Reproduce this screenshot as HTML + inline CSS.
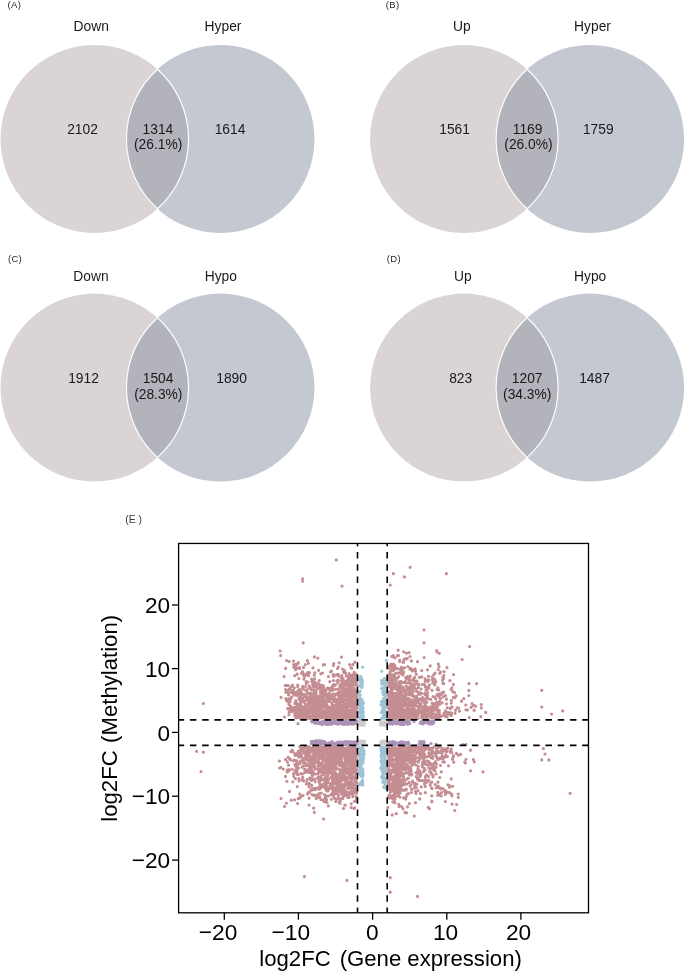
<!DOCTYPE html>
<html><head><meta charset="utf-8">
<style>
html,body{margin:0;padding:0;background:#fff;}
body{width:685px;height:972px;overflow:hidden;position:relative;font-family:"Liberation Sans",sans-serif;}
svg{position:absolute;left:0;top:0;will-change:transform;}
text{font-family:"Liberation Sans",sans-serif;}
</style></head><body>
<svg width="685" height="972" viewBox="0 0 685 972">
<defs>
<g id="venn">
<circle cx="94.5" cy="139" r="94" fill="#dad5d4"/>
<circle cx="220.5" cy="139" r="94" fill="#c3c8d1"/>
<path d="M157.5 69.2 A94 94 0 0 1 157.5 208.8 A94 94 0 0 1 157.5 69.2Z" fill="#b3b3bc" stroke="#fff" stroke-width="1.15"/>
</g>
</defs>
<g fill="#2a2a2a" font-size="9.5" letter-spacing="0.35">
<text x="7.6" y="7.9">(A)</text>
<text x="385.8" y="8.0">(B)</text>
<text x="7.9" y="262.2">(C)</text>
<text x="386.8" y="262.2">(D)</text>
</g>
<!-- Panel A -->
<use href="#venn"/>
<g font-size="13.8" fill="#1a1a1a" text-anchor="middle">
<text x="91.2" y="31">Down</text>
<text x="223" y="31">Hyper</text>
<text x="82.55" y="133.5">2102</text>
<text x="157.9" y="133.5">1314</text>
<text x="158.1" y="149.4">(26.1%)</text>
<text x="230" y="133.5">1614</text>
</g>
<!-- Panel B -->
<use href="#venn" transform="translate(369.6,0)"/>
<g font-size="13.8" fill="#1a1a1a" text-anchor="middle">
<text x="461.8" y="31">Up</text>
<text x="592.5" y="31">Hyper</text>
<text x="454.6" y="133.5">1561</text>
<text x="527.6" y="133.5">1169</text>
<text x="528.5" y="149.4">(26.0%)</text>
<text x="598.3" y="133.5">1759</text>
</g>
<!-- Panel C -->
<use href="#venn" transform="translate(0,248.6)"/>
<g font-size="13.8" fill="#1a1a1a" text-anchor="middle">
<text x="91" y="280.8">Down</text>
<text x="220.8" y="280.8">Hypo</text>
<text x="83.5" y="383">1912</text>
<text x="158.1" y="383">1504</text>
<text x="158.3" y="398.7">(28.3%)</text>
<text x="231.6" y="383">1890</text>
</g>
<!-- Panel D -->
<use href="#venn" transform="translate(369.6,248.6)"/>
<g font-size="13.8" fill="#1a1a1a" text-anchor="middle">
<text x="462.9" y="280.8">Up</text>
<text x="590.2" y="280.8">Hypo</text>
<text x="460.7" y="383">823</text>
<text x="527.2" y="383">1207</text>
<text x="527.2" y="398.7">(34.3%)</text>
<text x="594.5" y="383">1487</text>
</g>
<!-- Panel E -->
<text x="125.2" y="523.2" font-size="10.4" fill="#3a3a3a">(E )</text>
<g stroke-width="3.2" stroke-linecap="round" fill="none">
<path d="M297.3 664.2h0M312.9 667.8h0M349.0 683.4h0M344.9 713.1h0M309.6 715.2h0M317.5 699.3h0M347.6 718.6h0M332.0 709.3h0M346.9 689.1h0M348.8 712.2h0M347.0 693.5h0M334.2 712.1h0M341.9 707.1h0M314.0 709.2h0M318.6 670.3h0M307.7 697.4h0M353.2 703.2h0M352.0 695.0h0M322.4 691.6h0M297.7 686.5h0M333.0 718.3h0M308.4 717.7h0M309.5 687.3h0M352.4 713.9h0M356.4 685.4h0M328.3 694.3h0M351.0 686.8h0M304.5 696.0h0M356.1 713.1h0M345.9 684.1h0M317.4 699.7h0M322.2 702.7h0M346.4 707.9h0M300.7 711.0h0M294.2 710.2h0M305.7 709.3h0M351.4 683.6h0M348.4 694.3h0M316.5 700.9h0M314.5 716.1h0M340.9 712.4h0M310.1 698.1h0M325.9 717.1h0M348.1 710.2h0M306.3 683.6h0M352.4 677.0h0M343.3 698.4h0M297.0 713.6h0M346.9 692.5h0M335.6 711.6h0M320.7 710.6h0M344.0 709.9h0M335.9 711.0h0M322.9 692.6h0M317.4 705.1h0M322.1 689.6h0M331.4 715.0h0M353.5 709.7h0M301.9 709.0h0M298.5 712.6h0M321.8 698.0h0M325.9 714.2h0M355.5 682.0h0M350.9 713.6h0M345.6 717.8h0M338.3 674.7h0M343.2 678.6h0M352.9 717.3h0M321.2 714.2h0M313.5 701.8h0M291.2 698.1h0M341.5 716.0h0M351.5 675.7h0M298.4 705.6h0M348.6 717.3h0M312.2 705.1h0M332.2 705.0h0M340.5 715.8h0M305.2 707.3h0M307.6 704.1h0M352.9 703.3h0M323.2 711.6h0M341.7 715.5h0M353.9 716.3h0M347.7 716.7h0M356.9 697.6h0M343.4 706.8h0M351.7 696.5h0M299.6 705.8h0M324.6 664.7h0M301.0 689.8h0M356.4 707.9h0M317.2 706.9h0M330.0 699.3h0M299.4 711.4h0M324.9 716.6h0M298.8 689.6h0M349.2 705.4h0M333.5 705.6h0M304.9 715.0h0M303.4 710.6h0M299.0 709.4h0M340.8 718.4h0M354.1 710.6h0M313.4 712.7h0M337.0 693.5h0M348.9 716.2h0M297.6 703.9h0M343.0 686.3h0M353.9 694.7h0M293.8 707.4h0M322.0 714.0h0M339.7 703.1h0M324.4 691.6h0M352.8 705.7h0M293.8 667.3h0M343.2 686.0h0M312.1 706.4h0M335.9 709.1h0M352.3 697.0h0M344.1 688.8h0M340.4 713.8h0M348.8 705.3h0M300.9 717.9h0M305.6 704.8h0M320.5 717.3h0M356.6 694.9h0M335.9 708.5h0M353.7 708.8h0M320.6 691.9h0M316.5 698.9h0M352.5 716.0h0M321.0 685.2h0M316.2 685.2h0M306.7 689.8h0M341.2 695.6h0M314.4 656.9h0M343.2 714.5h0M305.4 708.0h0M310.5 716.3h0M324.0 697.5h0M292.5 685.0h0M301.9 715.1h0M351.4 691.9h0M319.2 680.6h0M326.9 718.5h0M351.3 679.6h0M315.0 697.9h0M313.8 707.2h0M348.3 717.0h0M312.1 695.0h0M314.5 678.8h0M305.1 718.6h0M307.4 660.7h0M331.5 671.2h0M342.9 714.8h0M322.5 673.0h0M299.2 713.0h0M305.7 704.2h0M297.2 674.2h0M343.7 671.9h0M345.2 718.2h0M305.4 686.5h0M317.0 709.1h0M325.8 702.9h0M330.7 714.6h0M317.8 658.1h0M288.8 702.8h0M314.7 700.4h0M310.4 711.8h0M322.8 712.4h0M285.2 685.6h0M352.7 692.9h0M306.2 714.1h0M344.2 710.2h0M319.8 713.3h0M339.9 716.6h0M346.5 705.6h0M344.7 712.4h0M290.5 709.9h0M288.3 685.6h0M323.2 685.7h0M296.0 700.6h0M325.6 706.6h0M335.6 717.3h0M356.4 708.9h0M310.6 717.9h0M321.1 709.2h0M321.9 704.0h0M305.2 712.5h0M337.8 699.3h0M285.6 689.5h0M349.0 705.1h0M336.1 717.9h0M324.7 702.7h0M341.3 696.9h0M306.4 714.1h0M345.7 702.7h0M344.1 695.4h0M333.8 676.5h0M333.8 708.1h0M322.7 704.9h0M302.8 673.4h0M353.5 714.1h0M316.5 686.8h0M332.1 713.2h0M307.8 672.6h0M312.3 700.7h0M354.1 704.2h0M342.9 715.0h0M309.0 702.2h0M314.4 692.6h0M311.2 712.1h0M338.7 695.7h0M338.4 700.3h0M306.4 698.2h0M328.6 714.9h0M354.9 715.1h0M340.1 703.5h0M352.2 708.8h0M353.5 696.5h0M329.5 707.3h0M331.0 717.3h0M327.5 716.6h0M356.5 713.1h0M323.5 707.1h0M291.6 697.0h0M355.2 683.1h0M315.6 710.4h0M288.4 690.1h0M314.9 692.2h0M355.6 674.1h0M354.1 688.1h0M310.4 712.5h0M350.2 683.7h0M351.4 677.2h0M289.5 688.9h0M326.1 705.2h0M330.8 712.3h0M322.0 707.2h0M319.9 695.9h0M343.0 713.5h0M310.2 696.8h0M295.7 715.2h0M348.1 716.7h0M310.1 717.2h0M315.9 713.8h0M300.6 703.1h0M310.5 709.6h0M350.2 716.7h0M351.1 717.2h0M333.0 700.4h0M328.4 713.1h0M329.5 695.2h0M314.1 710.9h0M293.6 664.5h0M349.0 704.5h0M350.2 683.9h0M350.3 718.6h0M342.3 709.1h0M355.0 703.2h0M322.2 708.3h0M346.1 708.7h0M340.2 707.7h0M323.2 716.1h0M342.1 684.8h0M339.9 711.8h0M356.9 693.6h0M304.0 707.4h0M349.2 686.8h0M301.1 715.2h0M315.1 702.8h0M325.3 693.1h0M334.1 675.5h0M332.6 686.5h0M305.4 664.6h0M324.0 711.2h0M350.2 682.6h0M355.7 679.3h0M356.3 698.9h0M345.1 715.1h0M355.8 699.4h0M341.7 715.2h0M334.2 712.5h0M356.1 693.0h0M315.6 703.1h0M346.3 706.7h0M354.1 714.3h0M302.9 708.0h0M294.2 710.7h0M309.1 718.2h0M302.8 713.4h0M297.5 694.9h0M335.2 717.3h0M345.9 718.7h0M319.1 700.0h0M291.9 690.6h0M346.6 713.3h0M319.7 704.6h0M293.8 692.9h0M332.5 697.7h0M342.5 692.4h0M330.0 713.0h0M337.5 668.5h0M315.9 693.6h0M349.5 675.3h0M338.5 680.4h0M307.6 682.1h0M333.6 707.9h0M309.4 698.5h0M310.3 717.9h0M345.8 685.7h0M352.0 715.0h0M314.5 715.8h0M330.2 708.1h0M327.8 696.4h0M321.4 700.6h0M345.9 710.4h0M295.1 692.7h0M356.0 713.5h0M338.3 703.6h0M313.1 709.6h0M343.4 685.9h0M338.1 680.0h0M300.4 696.3h0M347.0 716.1h0M353.6 716.0h0M339.0 714.0h0M345.6 699.6h0M350.1 688.7h0M329.6 689.8h0M308.3 704.7h0M333.5 709.9h0M309.2 704.6h0M343.1 708.4h0M330.1 710.2h0M298.9 714.9h0M311.8 708.3h0M309.4 672.7h0M342.2 707.3h0M315.0 699.2h0M340.1 716.9h0M340.6 703.2h0M341.7 681.2h0M336.2 711.7h0M349.8 701.0h0M353.1 711.9h0M315.7 712.2h0M314.9 716.1h0M327.2 716.1h0M327.8 715.9h0M318.6 710.5h0M350.8 698.4h0M290.2 699.5h0M336.5 711.5h0M346.2 718.6h0M353.6 711.5h0M349.6 685.3h0M315.1 709.1h0M343.9 715.1h0M310.8 699.3h0M310.2 700.2h0M327.0 716.9h0M347.8 699.2h0M356.0 691.3h0M315.1 718.8h0M345.7 714.4h0M311.3 718.7h0M337.0 674.6h0M341.3 696.4h0M300.5 714.1h0M337.7 715.2h0M308.3 710.0h0M313.7 685.4h0M337.9 689.0h0M351.6 688.0h0M307.6 710.5h0M329.2 708.3h0M342.4 700.0h0M300.6 704.2h0M350.8 677.3h0M313.1 708.8h0M327.8 701.2h0M311.2 709.8h0M324.5 701.0h0M355.1 693.6h0M344.1 686.3h0M348.6 706.7h0M354.6 715.8h0M348.6 679.3h0M310.0 707.5h0M354.7 692.7h0M313.3 698.0h0M306.9 712.2h0M318.6 684.1h0M319.4 685.2h0M308.4 663.3h0M337.0 680.9h0M342.5 706.6h0M335.1 695.4h0M339.4 708.4h0M336.3 694.2h0M337.0 718.7h0M337.4 703.0h0M350.2 705.0h0M319.3 713.3h0M288.1 692.8h0M326.2 705.5h0M328.7 708.4h0M353.9 678.1h0M317.7 710.0h0M300.8 716.2h0M319.3 706.8h0M334.6 708.5h0M322.3 715.6h0M311.3 707.0h0M326.1 717.7h0M356.8 691.3h0M317.2 700.5h0M340.8 694.9h0M300.1 692.6h0M321.2 714.5h0M330.5 671.9h0M310.4 707.0h0M349.1 673.5h0M294.6 695.2h0M295.9 717.7h0M319.5 716.8h0M353.3 685.1h0M353.9 695.9h0M351.5 706.2h0M320.0 701.6h0M356.8 684.5h0M302.2 694.1h0M304.7 707.0h0M324.0 688.1h0M350.3 718.0h0M353.3 709.6h0M288.6 698.8h0M338.3 667.0h0M343.3 709.6h0M305.5 716.4h0M308.2 700.8h0M343.2 693.8h0M355.6 693.0h0M304.0 679.1h0M339.8 692.3h0M337.3 713.0h0M341.7 695.2h0M310.5 715.7h0M337.3 704.4h0M355.0 716.4h0M336.0 710.0h0M317.5 703.6h0M312.6 695.4h0M312.8 682.9h0M335.7 710.5h0M325.3 714.3h0M301.4 692.5h0M351.9 691.8h0M336.4 705.5h0M347.2 694.5h0M308.9 712.4h0M346.6 718.0h0M344.9 707.5h0M347.2 691.1h0M297.5 704.1h0M317.7 713.4h0M302.3 671.9h0M291.4 686.8h0M318.3 716.5h0M311.5 717.9h0M353.5 693.3h0M344.6 707.2h0M323.6 694.5h0M355.5 707.6h0M332.3 706.7h0M349.5 696.9h0M353.2 684.0h0M299.8 691.8h0M336.2 713.4h0M355.1 705.8h0M317.8 688.3h0M341.3 717.0h0M330.4 710.3h0M340.6 709.5h0M337.3 674.6h0M348.2 699.2h0M332.2 697.8h0M353.3 711.7h0M300.4 715.8h0M306.0 674.0h0M289.2 661.5h0M315.8 694.9h0M347.3 705.3h0M328.9 710.3h0M325.9 706.8h0M355.7 697.2h0M322.4 692.0h0M307.6 704.9h0M344.3 691.2h0M301.1 716.4h0M300.3 710.7h0M338.7 698.1h0M324.9 711.8h0M355.9 715.1h0M325.6 701.1h0M300.7 706.5h0M322.6 712.5h0M306.6 713.1h0M349.8 676.4h0M334.1 697.7h0M290.1 701.7h0M352.1 679.4h0M313.5 687.1h0M309.0 704.5h0M355.9 703.2h0M334.4 701.3h0M326.0 700.0h0M308.4 712.2h0M318.6 714.2h0M333.4 665.5h0M350.7 684.6h0M325.2 710.1h0M299.9 711.6h0M326.4 714.7h0M350.4 701.8h0M348.6 702.7h0M345.0 713.4h0M351.0 710.7h0M293.3 690.5h0M333.0 705.1h0M342.9 718.0h0M299.9 717.2h0M353.1 679.9h0M345.5 706.5h0M316.6 716.4h0M293.0 708.5h0M348.2 694.5h0M317.8 703.7h0M295.2 716.4h0M301.7 716.4h0M298.7 717.7h0M297.8 711.2h0M355.0 680.8h0M302.7 694.5h0M297.3 695.4h0M289.0 714.7h0M295.2 713.4h0M355.3 714.4h0M321.3 707.3h0M356.6 681.7h0M347.6 706.2h0M330.4 708.9h0M355.1 690.0h0M300.9 702.1h0M315.4 696.0h0M315.0 694.2h0M308.0 716.7h0M324.6 718.0h0M301.4 714.6h0M336.0 713.4h0M338.7 676.1h0M304.3 694.5h0M332.7 704.9h0M345.9 706.7h0M350.3 684.9h0M338.5 717.0h0M296.8 706.9h0M314.3 675.2h0M308.9 700.1h0M332.9 694.2h0M323.1 711.6h0M353.4 705.3h0M337.2 702.1h0M337.4 700.6h0M326.4 703.8h0M294.7 714.0h0M281.0 697.4h0M344.7 713.8h0M338.5 716.5h0M325.5 713.7h0M320.1 718.1h0M311.3 693.1h0M347.8 690.0h0M342.3 712.7h0M305.0 713.6h0M298.9 708.4h0M343.0 713.0h0M350.9 667.5h0M345.2 710.6h0M347.6 702.5h0M334.3 718.1h0M319.4 688.8h0M308.9 693.1h0M312.9 704.0h0M323.4 707.1h0M295.6 692.5h0M304.0 702.2h0M289.0 704.4h0M336.2 708.9h0M343.4 699.4h0M300.2 700.6h0M324.8 703.0h0M308.6 675.7h0M353.3 711.7h0M323.4 664.9h0M356.7 703.4h0M335.3 689.5h0M323.9 693.1h0M312.2 708.2h0M339.2 662.8h0M292.0 708.3h0M317.7 688.5h0M314.1 718.2h0M320.0 695.9h0M334.3 698.4h0M292.5 692.6h0M311.4 710.1h0M335.0 718.7h0M299.2 699.2h0M338.6 710.7h0M353.9 710.7h0M322.3 703.2h0M326.0 708.0h0M301.2 705.6h0M342.1 679.9h0M324.6 692.5h0M338.2 708.8h0M348.5 679.9h0M344.5 715.9h0M351.0 700.1h0M313.5 705.1h0M351.9 675.4h0M347.6 689.0h0M313.1 695.3h0M345.6 673.1h0M344.7 696.2h0M311.2 716.2h0M317.4 705.7h0M289.1 699.8h0M313.5 714.5h0M353.0 681.3h0M344.6 717.6h0M315.5 715.8h0M341.5 657.0h0M317.0 712.2h0M339.9 698.6h0M323.6 717.0h0M320.6 708.8h0M351.0 702.7h0M329.8 681.7h0M302.6 707.2h0M346.3 709.8h0M302.8 686.4h0M337.5 703.8h0M333.0 709.6h0M300.7 708.5h0M337.0 714.2h0M352.9 680.7h0M344.1 717.2h0M315.2 718.0h0M321.8 688.0h0M313.0 712.5h0M327.2 697.4h0M306.5 706.6h0M354.1 672.4h0M356.7 696.5h0M315.5 702.1h0M314.8 706.4h0M328.0 711.4h0M297.8 685.2h0M350.5 716.3h0M344.1 702.6h0M318.0 712.9h0M349.6 693.7h0M296.1 664.4h0M295.6 669.7h0M354.2 683.6h0M301.6 698.1h0M303.9 710.4h0M323.4 713.3h0M350.0 686.2h0M314.7 682.3h0M314.7 708.0h0M300.7 707.4h0M349.9 690.2h0M302.3 711.6h0M312.9 695.9h0M311.9 710.5h0M331.4 695.6h0M334.5 718.3h0M350.2 718.4h0M320.4 697.9h0M352.8 696.1h0M351.1 676.8h0M356.3 678.2h0M342.9 705.2h0M330.3 689.6h0M323.8 687.5h0M336.6 674.8h0M295.9 708.7h0M306.1 681.6h0M320.8 673.8h0M336.8 700.7h0M303.5 667.4h0M335.2 705.9h0M320.3 716.0h0M355.8 698.9h0M349.5 683.3h0M336.7 699.7h0M342.4 711.5h0M304.2 718.4h0M330.9 716.2h0M341.0 687.3h0M317.3 717.6h0M287.7 708.7h0M348.8 683.4h0M297.1 710.1h0M317.6 696.2h0M300.8 704.4h0M336.1 704.5h0M326.4 694.1h0M352.3 695.8h0M318.1 696.4h0M352.9 664.7h0M351.1 702.8h0M296.1 693.4h0M328.6 697.9h0M341.8 689.3h0M336.0 714.3h0M315.7 709.3h0M352.8 700.4h0M334.7 694.0h0M322.3 693.8h0M351.8 668.3h0M335.3 708.2h0M328.4 707.3h0M328.2 718.2h0M325.6 707.8h0M353.7 677.5h0M327.8 699.1h0M342.0 705.0h0M332.7 716.7h0M339.4 712.0h0M356.9 705.5h0M341.2 712.9h0M341.6 686.5h0M350.2 715.8h0M293.2 707.7h0M322.4 697.2h0M325.1 690.0h0M329.3 712.9h0M293.8 709.8h0M328.5 709.3h0M324.0 715.7h0M356.0 691.4h0M306.0 706.4h0M294.9 703.4h0M317.0 715.1h0M310.9 689.4h0M317.1 684.1h0M337.6 711.0h0M314.9 715.2h0M351.9 698.9h0M351.4 685.9h0M343.1 711.1h0M285.6 668.3h0M353.8 712.7h0M353.9 706.3h0M327.4 688.3h0M355.8 700.4h0M340.1 703.7h0M308.9 705.2h0M309.3 716.0h0M328.6 698.4h0M309.9 716.6h0M324.6 716.7h0M331.6 716.1h0M306.9 692.2h0M325.2 715.8h0M339.2 708.6h0M352.4 714.5h0M356.8 707.6h0M342.4 679.0h0M334.2 709.7h0M327.4 718.5h0M350.8 712.2h0M302.7 697.8h0M322.8 700.1h0M345.0 704.2h0M303.8 707.2h0M318.2 683.4h0M329.1 701.5h0M327.6 688.2h0M337.8 682.9h0M341.1 707.0h0M291.9 711.7h0M303.5 718.6h0M311.7 700.1h0M356.0 683.8h0M303.0 715.8h0M333.5 701.5h0M331.7 698.8h0M304.9 710.6h0M333.6 712.0h0M340.6 709.4h0M357.0 701.6h0M304.4 689.8h0M356.8 713.5h0M297.3 710.4h0M309.5 702.1h0M313.9 690.2h0M336.4 703.2h0M343.3 710.4h0M299.4 717.2h0M301.5 701.3h0M345.9 712.9h0M347.6 698.2h0M322.6 705.7h0M290.3 707.6h0M349.7 700.5h0M305.6 697.0h0M314.4 711.2h0M304.2 717.6h0M322.3 704.8h0M327.3 705.7h0M351.1 696.3h0M349.2 693.6h0M342.3 710.0h0M321.7 713.7h0M325.0 714.1h0M340.7 709.3h0M314.3 716.6h0M329.8 710.6h0M288.6 695.0h0M319.3 688.9h0M354.5 696.7h0M311.1 718.0h0M355.2 678.9h0M348.0 713.5h0M336.2 716.9h0M346.4 675.9h0M298.8 678.5h0M353.9 714.2h0M316.9 706.7h0M341.8 675.7h0M346.4 703.0h0M343.5 681.2h0M356.6 675.1h0M356.1 717.0h0M341.9 707.1h0M325.7 695.4h0M312.7 685.2h0M318.0 707.6h0M347.0 703.4h0M334.0 717.1h0M315.8 718.1h0M355.1 709.8h0M310.3 695.2h0M317.0 709.9h0M351.6 694.7h0M297.4 705.6h0M340.5 684.9h0M315.0 715.8h0M330.3 707.7h0M329.6 692.9h0M341.3 706.7h0M346.4 695.7h0M339.0 700.7h0M353.1 715.7h0M333.2 675.3h0M347.4 696.8h0M356.8 707.7h0M342.6 678.9h0M355.1 695.2h0M327.8 706.9h0M353.7 707.7h0M333.2 699.8h0M331.8 703.6h0M350.1 695.3h0M346.7 706.1h0M344.1 688.7h0M323.5 716.3h0M317.3 717.1h0M331.4 712.5h0M353.3 712.4h0M347.0 714.0h0M307.2 718.1h0M309.2 685.9h0M323.9 696.3h0M306.6 708.8h0M341.8 701.7h0M313.9 703.9h0M306.1 713.8h0M355.8 710.7h0M342.4 718.0h0M344.2 709.7h0M335.3 699.6h0M352.4 691.4h0M312.1 702.6h0M347.6 708.6h0M351.7 710.8h0M354.7 708.3h0M354.6 707.9h0M311.3 712.5h0M313.3 686.1h0M320.4 717.9h0M300.1 711.4h0M356.7 702.6h0M340.7 711.0h0M339.5 714.7h0M318.2 697.7h0M311.3 717.0h0M290.5 711.5h0M353.9 703.0h0M337.2 715.6h0M326.2 705.5h0M350.0 710.2h0M306.1 674.8h0M312.2 695.1h0M314.8 707.7h0M355.8 699.5h0M353.4 694.1h0M337.7 701.4h0M320.9 705.4h0M320.6 696.7h0M342.5 718.5h0M320.7 685.5h0M295.7 712.1h0M326.1 709.5h0M315.8 715.0h0M307.4 717.9h0M332.8 718.2h0M350.2 713.6h0M345.2 694.9h0M356.0 717.1h0M341.4 678.1h0M328.8 693.5h0M298.3 662.7h0M329.6 701.4h0M305.5 717.5h0M338.4 715.4h0M345.1 717.2h0M299.0 708.4h0M346.6 715.5h0M353.0 696.7h0M344.6 704.3h0M298.2 715.4h0M340.0 687.4h0M296.5 713.5h0M303.5 675.3h0M319.6 701.0h0M324.7 706.0h0M297.0 704.1h0M344.3 681.3h0M284.1 676.6h0M304.7 706.5h0M304.1 717.9h0M340.6 710.3h0M346.5 713.3h0M356.2 712.4h0M354.9 662.2h0M333.4 711.9h0M355.0 706.9h0M340.0 685.6h0M318.3 708.6h0M295.8 707.0h0M297.9 710.4h0M326.1 712.3h0M295.7 701.0h0M354.0 703.7h0M351.8 715.2h0M351.3 711.5h0M350.8 692.6h0M325.0 706.3h0M320.4 715.6h0M313.0 704.2h0M343.1 710.6h0M334.0 684.5h0M313.9 708.7h0M309.0 688.0h0M316.4 699.1h0M315.3 715.3h0M293.7 694.5h0M335.0 713.4h0M327.4 716.2h0M350.5 706.3h0M302.5 698.2h0M356.8 717.8h0M315.1 687.0h0M333.2 718.7h0M305.6 700.2h0M320.0 714.5h0M316.6 716.9h0M310.5 688.0h0M323.3 716.4h0M331.9 716.5h0M299.0 698.1h0M344.5 670.4h0M302.3 701.1h0M344.5 688.6h0M339.6 702.8h0M318.4 704.7h0M307.1 694.1h0M322.5 692.4h0M286.6 685.4h0M332.6 697.3h0M332.6 718.4h0M315.8 690.8h0M320.6 711.5h0M346.8 682.2h0M343.5 705.5h0M339.9 703.1h0M354.1 709.8h0M314.2 686.0h0M346.0 715.2h0M355.4 675.9h0M352.9 696.3h0M344.5 711.3h0M335.2 717.7h0M353.4 712.5h0M333.3 718.3h0M300.0 711.8h0M340.6 706.9h0M297.5 708.6h0M337.5 710.3h0M351.5 710.5h0M305.4 695.5h0M307.5 698.5h0M346.6 706.3h0M338.6 692.2h0M318.9 704.0h0M319.4 705.0h0M301.2 710.7h0M342.2 712.2h0M352.2 678.9h0M295.8 702.1h0M323.8 701.9h0M349.6 664.5h0M344.8 714.9h0M338.7 706.5h0M301.9 718.2h0M340.1 706.4h0M312.1 702.9h0M349.7 717.3h0M316.4 710.3h0M331.5 687.4h0M343.0 714.2h0M343.9 683.9h0M334.3 717.6h0M291.6 710.4h0M347.6 691.8h0M310.0 714.9h0M335.7 708.2h0M309.5 718.0h0M286.6 700.8h0M330.0 716.4h0M294.9 715.6h0M350.7 683.5h0M330.5 697.5h0M347.9 704.5h0M314.2 716.7h0M327.1 705.9h0M346.9 705.8h0M354.7 674.0h0M336.3 714.3h0M312.1 717.8h0M356.2 691.1h0M320.5 692.7h0M319.6 713.6h0M304.4 716.4h0M350.5 704.6h0M345.8 699.7h0M350.5 682.6h0M345.9 692.9h0M332.0 713.7h0M331.7 708.5h0M330.4 716.3h0M345.7 712.0h0M354.2 706.0h0M330.0 716.6h0M310.8 700.5h0M356.3 679.7h0M352.7 715.2h0M338.9 699.9h0M294.2 687.8h0M316.2 691.6h0M297.4 691.6h0M339.6 706.9h0M342.5 669.0h0M291.0 692.5h0M352.1 696.0h0M322.3 715.2h0M322.4 702.5h0M316.0 715.2h0M328.9 699.0h0M333.8 663.6h0M339.6 691.0h0M355.5 714.9h0M308.1 718.3h0M296.4 707.4h0M304.1 708.6h0M348.6 688.4h0M285.9 692.2h0M320.6 696.3h0M302.5 687.6h0M353.3 709.2h0M347.6 686.0h0M348.4 678.4h0M335.3 685.2h0M342.7 687.9h0M292.8 708.3h0M332.4 707.6h0M302.6 699.9h0M352.4 690.8h0M300.7 690.4h0M342.9 707.4h0M322.8 699.5h0M332.3 690.4h0M314.8 672.9h0M321.8 686.0h0M333.5 705.9h0M309.3 703.8h0M313.0 690.0h0M290.6 706.0h0M308.5 704.9h0M346.3 703.8h0M315.3 707.9h0M348.7 703.0h0M311.8 694.3h0M354.3 705.3h0M298.0 692.8h0M322.1 717.6h0M326.0 690.8h0M308.0 704.3h0M323.3 699.2h0M332.8 689.3h0M352.1 697.1h0M355.9 696.0h0M341.7 705.4h0M342.1 709.4h0M333.5 674.7h0M347.9 699.6h0M296.1 717.8h0M307.2 705.2h0M352.8 675.1h0M319.8 687.1h0M318.9 696.3h0M323.1 702.8h0M305.7 711.9h0M328.4 676.5h0M338.6 692.4h0M304.1 711.1h0M341.4 684.2h0M340.6 698.9h0M312.3 711.4h0M320.8 709.2h0M344.2 672.7h0M352.8 715.3h0M346.9 680.7h0M304.7 711.9h0M300.5 710.0h0M294.8 675.7h0M316.8 697.4h0M351.1 680.8h0M302.8 714.9h0M332.8 688.8h0M309.8 687.3h0M311.4 718.1h0M350.5 714.9h0M328.7 688.3h0M299.7 693.4h0M336.7 712.9h0M333.4 680.5h0M330.3 708.3h0M304.7 707.5h0M316.7 711.4h0M295.8 716.4h0M289.1 711.9h0M351.3 714.6h0M320.9 689.2h0M285.9 698.7h0M347.3 690.2h0M306.8 713.7h0M351.9 700.6h0M311.2 698.8h0M300.9 702.3h0M332.9 685.2h0M318.7 702.1h0M319.4 708.9h0M346.6 709.7h0M304.3 701.6h0M334.6 714.9h0M354.9 682.2h0M356.8 704.7h0M350.5 711.0h0M322.3 693.9h0M330.1 715.3h0M293.5 661.1h0M309.6 707.3h0M318.7 707.3h0M351.4 716.0h0M349.1 683.1h0M333.3 706.6h0M344.9 681.6h0M355.9 713.9h0M316.8 706.7h0M349.2 677.2h0M353.7 718.7h0M317.6 709.9h0M354.7 697.0h0M356.2 695.5h0M353.4 707.9h0M343.4 706.0h0M296.9 715.8h0M344.0 712.7h0M420.6 703.6h0M398.2 688.6h0M459.4 711.2h0M413.3 701.9h0M406.7 707.7h0M397.2 707.6h0M427.4 707.3h0M410.5 689.6h0M396.7 710.5h0M395.3 683.7h0M393.2 685.4h0M427.8 687.2h0M420.1 712.5h0M412.4 695.8h0M412.5 694.3h0M436.1 716.7h0M396.8 710.7h0M426.8 718.0h0M428.5 713.4h0M431.1 709.8h0M416.3 689.0h0M414.3 715.2h0M400.2 717.9h0M390.2 682.1h0M431.0 711.2h0M395.8 668.0h0M421.7 670.5h0M447.0 667.6h0M391.6 696.3h0M391.2 670.4h0M393.1 715.3h0M414.8 709.4h0M391.3 690.0h0M411.9 711.7h0M401.7 692.7h0M425.1 678.9h0M391.2 687.9h0M432.3 716.7h0M392.6 714.6h0M409.1 703.4h0M435.7 681.7h0M403.4 704.6h0M399.4 713.0h0M432.0 690.3h0M455.4 710.3h0M403.8 695.3h0M400.5 712.7h0M399.0 711.5h0M389.3 693.9h0M402.1 703.7h0M395.8 712.6h0M400.2 669.6h0M430.7 699.3h0M410.9 692.5h0M389.9 712.4h0M396.6 707.2h0M406.5 711.3h0M396.3 717.6h0M395.8 701.6h0M388.6 718.3h0M439.3 711.4h0M409.7 718.1h0M423.6 714.0h0M395.5 693.6h0M437.1 694.7h0M404.7 714.8h0M400.9 689.6h0M435.3 714.8h0M471.1 707.4h0M395.2 657.8h0M427.6 687.6h0M391.0 664.2h0M419.1 684.5h0M400.3 710.6h0M428.5 676.4h0M398.2 717.2h0M423.9 710.7h0M393.3 655.5h0M413.5 715.8h0M451.6 713.2h0M393.1 703.3h0M393.1 681.4h0M404.6 713.9h0M437.9 687.8h0M409.4 694.9h0M427.0 690.3h0M454.6 692.6h0M396.0 713.2h0M412.0 701.0h0M398.5 708.7h0M392.5 715.0h0M402.9 674.9h0M412.7 708.1h0M392.9 711.6h0M424.0 718.6h0M392.3 692.6h0M437.5 711.4h0M393.2 670.0h0M416.1 701.9h0M434.8 684.9h0M392.7 712.0h0M415.2 703.8h0M427.2 697.4h0M399.1 710.7h0M402.7 704.5h0M408.5 706.1h0M415.0 687.9h0M399.7 661.6h0M443.8 713.6h0M410.4 715.3h0M399.9 711.5h0M431.0 713.0h0M449.9 680.7h0M448.1 714.1h0M412.5 711.0h0M398.1 650.2h0M390.1 699.7h0M391.8 710.1h0M389.6 686.2h0M433.4 681.6h0M440.0 697.9h0M393.2 657.0h0M400.3 681.7h0M481.2 704.5h0M394.6 712.8h0M388.6 699.8h0M406.2 717.1h0M399.3 704.6h0M451.2 703.2h0M394.0 670.1h0M438.5 718.3h0M395.2 710.9h0M415.7 712.0h0M390.4 696.9h0M405.1 713.6h0M407.3 715.0h0M410.6 714.2h0M431.6 714.8h0M421.5 706.4h0M411.8 704.3h0M400.5 672.6h0M433.0 704.3h0M393.8 695.4h0M441.1 716.2h0M425.3 699.4h0M412.8 708.1h0M408.1 711.2h0M411.2 692.6h0M416.9 681.1h0M435.9 715.9h0M390.1 676.9h0M388.5 686.2h0M425.8 716.1h0M400.6 712.2h0M401.1 695.6h0M395.9 686.6h0M416.6 714.2h0M434.6 679.0h0M412.4 716.7h0M399.2 706.3h0M392.5 701.1h0M388.9 674.5h0M414.6 715.9h0M414.1 713.9h0M432.6 717.7h0M412.8 687.4h0M391.8 710.6h0M395.3 673.5h0M394.2 708.3h0M443.9 675.3h0M429.4 684.8h0M404.0 701.4h0M389.6 707.5h0M416.1 716.1h0M416.3 674.3h0M407.7 707.4h0M405.7 677.9h0M424.7 693.4h0M390.3 697.4h0M404.5 703.9h0M394.8 712.4h0M468.9 690.4h0M402.5 712.9h0M397.9 700.8h0M389.4 666.2h0M439.8 673.3h0M420.5 710.8h0M412.1 705.1h0M397.9 708.5h0M468.8 695.5h0M390.0 715.4h0M405.0 682.7h0M432.1 706.7h0M422.8 715.6h0M407.8 718.4h0M394.2 714.0h0M401.6 711.3h0M400.2 709.9h0M393.9 699.5h0M461.5 701.2h0M399.9 705.3h0M397.9 682.8h0M445.5 695.7h0M403.5 662.2h0M431.5 716.5h0M403.8 712.9h0M452.7 691.6h0M414.9 698.9h0M411.4 694.3h0M438.3 669.6h0M393.9 718.5h0M396.1 707.4h0M393.1 717.3h0M428.3 708.2h0M472.1 703.5h0M390.8 677.1h0M475.6 706.2h0M430.9 710.9h0M447.1 717.0h0M403.9 688.9h0M408.3 688.1h0M395.6 697.1h0M391.8 712.6h0M410.4 700.4h0M425.1 716.2h0M440.5 694.7h0M391.3 704.1h0M414.2 684.3h0M402.5 713.9h0M408.2 707.7h0M392.9 694.9h0M414.7 718.4h0M394.4 715.4h0M421.8 676.9h0M408.7 704.0h0M401.2 692.6h0M389.7 698.6h0M440.6 672.1h0M416.1 711.2h0M432.9 713.7h0M407.2 705.8h0M391.8 687.6h0M396.4 711.2h0M413.3 718.6h0M401.1 698.6h0M425.2 703.3h0M396.0 680.3h0M419.4 707.6h0M423.6 712.8h0M419.1 692.0h0M396.9 714.2h0M406.2 710.5h0M408.2 708.1h0M418.3 700.8h0M425.7 714.5h0M394.4 688.2h0M394.8 699.7h0M404.5 667.8h0M403.9 711.5h0M406.9 717.9h0M393.4 713.6h0M413.6 700.6h0M412.8 709.1h0M401.7 688.2h0M414.8 688.1h0M397.2 709.3h0M401.2 673.6h0M418.3 707.5h0M414.4 706.1h0M450.9 715.4h0M409.2 690.0h0M404.4 698.1h0M398.6 714.3h0M413.6 695.8h0M402.5 712.3h0M396.8 693.4h0M463.8 698.6h0M398.5 695.7h0M393.8 694.3h0M401.6 709.3h0M403.0 704.7h0M389.2 703.9h0M390.0 717.9h0M473.7 705.3h0M410.6 705.8h0M411.5 701.9h0M408.5 711.8h0M413.2 691.3h0M412.8 717.6h0M396.5 668.2h0M442.9 683.1h0M403.2 709.4h0M435.2 714.2h0M393.1 698.7h0M393.0 703.1h0M389.0 695.5h0M391.0 676.5h0M420.5 694.1h0M409.5 709.4h0M390.3 696.4h0M391.5 713.8h0M451.1 689.3h0M408.8 679.7h0M389.1 686.9h0M393.3 713.3h0M439.4 712.3h0M411.0 711.5h0M399.0 704.5h0M399.4 711.4h0M403.7 651.8h0M424.1 657.5h0M457.2 707.9h0M415.9 712.8h0M429.4 716.2h0M390.8 706.9h0M402.7 687.1h0M402.2 696.2h0M396.1 718.6h0M407.8 717.8h0M400.2 693.4h0M403.8 660.2h0M427.6 693.1h0M411.2 710.8h0M395.8 704.9h0M414.3 713.7h0M413.1 680.3h0M395.2 717.4h0M399.8 701.5h0M393.6 710.0h0M393.7 669.0h0M404.9 718.7h0M415.7 700.0h0M394.7 708.4h0M396.6 686.2h0M412.7 689.0h0M422.0 716.2h0M400.7 716.7h0M412.2 711.2h0M414.6 705.2h0M398.2 686.1h0M419.8 694.2h0M394.6 693.5h0M390.7 686.3h0M405.1 698.8h0M422.3 699.2h0M418.3 684.0h0M407.9 708.6h0M410.1 699.9h0M405.9 713.2h0M387.9 705.3h0M391.9 656.4h0M388.4 704.9h0M406.2 701.0h0M410.2 675.9h0M404.9 702.5h0M403.3 715.4h0M395.6 697.0h0M401.3 706.3h0M425.4 712.7h0M416.1 705.6h0M404.5 691.4h0M447.3 707.8h0M400.6 710.9h0M405.4 658.8h0M401.3 716.5h0M404.8 714.2h0M389.5 716.3h0M410.7 683.2h0M388.8 712.4h0M426.0 698.2h0M422.5 715.7h0M409.1 709.1h0M392.1 667.2h0M474.0 710.3h0M402.6 673.2h0M390.1 683.1h0M404.2 712.7h0M409.3 714.7h0M400.2 715.7h0M392.8 705.3h0M388.8 713.2h0M394.4 706.9h0M430.2 665.9h0M396.0 713.1h0M413.2 670.0h0M416.5 698.2h0M439.1 701.9h0M394.0 702.1h0M425.2 694.7h0M411.4 660.9h0M397.0 712.6h0M388.2 694.8h0M408.6 700.7h0M446.5 703.8h0M427.0 680.0h0M414.1 711.3h0M390.3 709.4h0M430.8 717.4h0M391.0 692.0h0M415.8 705.6h0M404.5 698.2h0M405.7 711.7h0M435.4 682.6h0M400.2 683.9h0M411.4 706.1h0M425.6 708.1h0M391.6 675.4h0M388.8 715.5h0M413.2 703.2h0M395.0 706.4h0M433.9 703.9h0M393.4 702.0h0M418.5 687.5h0M396.2 716.8h0M451.1 707.4h0M421.8 700.6h0M406.8 694.2h0M438.1 718.7h0M435.4 707.2h0M443.4 696.7h0M393.5 680.3h0M394.1 679.5h0M391.6 667.5h0M387.9 682.4h0M408.8 698.7h0M391.2 701.7h0M399.7 713.6h0M397.7 699.9h0M404.9 704.1h0M393.0 701.7h0M396.6 704.4h0M445.6 715.3h0M424.4 714.3h0M409.8 676.9h0M451.9 687.9h0M388.6 685.9h0M444.2 716.0h0M418.2 714.3h0M401.2 681.5h0M406.1 686.2h0M485.8 712.4h0M416.7 712.1h0M390.0 710.8h0M423.0 713.4h0M398.8 693.4h0M434.6 717.5h0M442.1 692.6h0M395.9 707.9h0M411.3 713.6h0M392.5 665.0h0M398.3 702.9h0M404.2 696.7h0M438.2 694.2h0M388.4 675.8h0M398.9 703.1h0M397.3 668.7h0M410.7 705.8h0M412.3 671.0h0M404.4 717.1h0M424.8 684.5h0M412.6 714.9h0M411.9 669.8h0M408.1 704.5h0M469.0 683.6h0M441.7 693.7h0M413.6 678.6h0M414.6 681.6h0M427.5 714.2h0M435.8 698.9h0M414.0 680.4h0M423.2 714.1h0M401.1 667.3h0M425.2 681.3h0M400.1 691.7h0M411.7 701.2h0M456.1 695.9h0M424.3 703.3h0M418.5 694.1h0M411.8 700.5h0M397.5 677.9h0M410.2 679.9h0M465.8 705.0h0M425.7 716.0h0M413.2 710.1h0M396.5 697.1h0M411.9 706.2h0M395.2 705.4h0M411.6 699.8h0M442.5 680.1h0M394.7 665.3h0M404.8 697.6h0M414.4 713.5h0M391.5 695.9h0M446.5 699.2h0M431.3 710.7h0M403.3 697.3h0M411.2 668.8h0M388.4 692.3h0M389.1 704.5h0M389.2 681.4h0M395.2 684.6h0M392.5 670.7h0M416.2 714.6h0M445.3 710.9h0M417.6 684.0h0M397.1 686.1h0M389.9 697.6h0M391.6 691.6h0M407.2 715.1h0M418.2 709.8h0M437.4 707.2h0M439.3 653.3h0M390.1 716.3h0M400.2 688.8h0M400.6 686.2h0M391.3 697.1h0M406.7 703.8h0M401.4 715.8h0M443.5 692.2h0M400.5 708.0h0M430.7 706.8h0M420.5 693.3h0M446.4 712.2h0M415.6 717.6h0M392.9 707.3h0M427.7 714.6h0M422.6 684.4h0M415.5 671.3h0M418.4 700.9h0M387.8 668.4h0M467.5 710.0h0M393.4 664.0h0M414.0 706.3h0M436.1 717.8h0M453.6 674.5h0M417.5 661.7h0M454.7 697.7h0M399.7 714.5h0M391.2 718.5h0M390.1 703.3h0M400.3 718.8h0M404.0 705.8h0M401.3 706.8h0M391.2 665.4h0M429.0 688.0h0M405.9 700.3h0M421.7 710.0h0M398.3 700.1h0M393.3 706.0h0M443.7 678.2h0M391.5 679.2h0M394.5 701.3h0M440.6 698.5h0M402.6 708.7h0M433.0 696.5h0M396.4 689.3h0M469.3 717.5h0M392.8 698.4h0M425.4 718.8h0M423.2 707.2h0M394.9 701.2h0M438.9 713.9h0M414.8 684.5h0M422.0 700.8h0M436.8 650.7h0M408.6 687.3h0M439.1 694.0h0M397.9 687.1h0M403.8 700.9h0M391.6 681.5h0M406.2 677.3h0M432.1 709.2h0M389.1 681.2h0M393.6 685.0h0M420.7 707.0h0M402.1 699.4h0M444.0 671.6h0M407.8 714.1h0M397.2 709.7h0M403.1 698.1h0M393.2 676.0h0M397.8 690.3h0M423.9 708.4h0M399.3 716.8h0M433.8 674.5h0M401.0 700.6h0M405.6 702.3h0M418.9 706.5h0M409.3 709.9h0M389.0 698.8h0M398.6 708.3h0M393.2 705.6h0M402.7 668.1h0M455.1 713.3h0M422.3 717.1h0M397.7 701.2h0M424.9 694.5h0M424.2 707.6h0M387.8 701.5h0M399.6 715.7h0M406.8 718.6h0M418.1 706.9h0M412.0 707.4h0M405.1 712.8h0M465.9 709.8h0M401.3 693.4h0M429.0 680.1h0M407.3 716.9h0M407.6 705.8h0M394.8 715.4h0M415.4 717.8h0M400.0 709.8h0M410.5 701.9h0M401.9 692.3h0M394.9 713.2h0M421.4 706.0h0M458.7 708.0h0M439.7 715.4h0M419.1 699.0h0M407.6 714.7h0M410.0 656.5h0M400.6 693.0h0M388.1 715.6h0M391.7 717.4h0M410.0 668.3h0M407.5 676.7h0M397.5 655.6h0M415.4 718.2h0M393.1 678.3h0M399.7 707.2h0M392.3 714.0h0M406.4 694.6h0M425.4 686.9h0M414.9 700.3h0M412.1 717.3h0M394.9 685.0h0M389.8 698.5h0M403.3 673.6h0M404.7 700.4h0M402.0 691.7h0M397.3 701.3h0M390.2 674.1h0M433.2 708.9h0M434.3 706.4h0M432.2 676.8h0M400.8 699.0h0M405.3 710.1h0M398.4 673.1h0M432.7 683.0h0M393.7 684.4h0M399.6 660.1h0M392.6 714.1h0M391.5 685.6h0M393.8 706.3h0M408.1 717.2h0M408.8 715.6h0M388.6 707.6h0M388.7 678.4h0M391.2 688.5h0M400.0 712.3h0M423.5 700.9h0M440.0 716.8h0M427.5 669.8h0M390.6 718.5h0M400.2 697.9h0M404.2 689.8h0M431.5 708.7h0M391.2 690.4h0M403.5 701.1h0M407.2 658.7h0M422.6 697.6h0M438.3 664.0h0M412.2 705.0h0M400.2 714.6h0M394.4 713.4h0M407.3 688.9h0M413.6 716.2h0M395.1 696.2h0M390.1 672.1h0M435.1 673.0h0M397.3 716.7h0M398.2 689.2h0M409.5 692.1h0M438.6 689.9h0M427.2 710.5h0M389.3 718.1h0M389.7 710.7h0M418.2 684.9h0M404.8 716.9h0M396.5 707.3h0M391.2 698.6h0M390.6 711.4h0M422.6 712.8h0M412.3 713.9h0M436.8 704.2h0M404.2 690.7h0M398.8 676.6h0M450.2 708.6h0M388.9 703.0h0M401.8 668.9h0M420.9 699.0h0M409.4 693.7h0M428.7 699.0h0M403.4 672.2h0M406.5 709.3h0M404.6 691.8h0M396.9 713.0h0M453.4 684.4h0M413.8 700.9h0M390.7 668.8h0M405.0 715.9h0M411.2 710.5h0M443.6 683.7h0M401.2 717.7h0M391.6 714.5h0M402.0 669.8h0M400.0 687.7h0M437.9 715.5h0M421.2 689.0h0M396.1 703.8h0M399.7 701.6h0M400.7 707.6h0M427.9 681.4h0M391.6 694.5h0M391.0 706.3h0M390.2 711.4h0M405.4 692.6h0M429.7 711.7h0M421.6 712.4h0M391.3 704.3h0M398.9 702.7h0M445.6 716.5h0M391.3 716.1h0M412.0 705.1h0M402.2 708.1h0M391.8 691.0h0M393.1 683.4h0M429.3 708.5h0M423.1 715.4h0M390.8 710.1h0M400.3 713.5h0M422.7 718.8h0M394.7 708.3h0M425.5 711.6h0M438.5 710.6h0M438.8 715.5h0M403.3 671.5h0M399.2 687.7h0M406.8 678.6h0M423.9 714.1h0M421.4 693.4h0M413.1 689.3h0M406.5 653.1h0M389.6 704.5h0M436.5 702.4h0M424.2 716.1h0M418.1 702.8h0M424.8 693.4h0M402.2 708.9h0M388.8 692.2h0M390.0 718.7h0M404.1 659.3h0M411.4 683.8h0M388.5 695.2h0M400.9 693.5h0M392.8 670.1h0M395.7 717.9h0M410.1 713.9h0M403.4 714.2h0M416.3 681.2h0M401.9 708.3h0M401.3 701.7h0M442.8 677.1h0M416.5 696.4h0M435.8 715.5h0M401.3 714.3h0M409.7 689.4h0M413.8 686.5h0M430.0 709.2h0M399.1 693.5h0M391.4 684.0h0M397.6 710.9h0M407.3 690.8h0M412.6 702.9h0M407.8 666.6h0M394.3 675.3h0M397.7 706.9h0M405.2 693.6h0M406.5 716.4h0M414.7 688.4h0M406.2 690.4h0M442.1 702.9h0M419.4 677.4h0M439.0 666.5h0M394.7 677.2h0M409.7 705.3h0M411.6 718.2h0M396.2 700.6h0M419.3 711.6h0M391.2 697.1h0M429.3 711.0h0M392.5 674.9h0M392.8 687.2h0M404.6 718.3h0M434.8 697.0h0M410.1 711.1h0M392.6 698.6h0M418.3 701.3h0M410.5 716.4h0M451.4 714.9h0M481.3 707.9h0M394.2 688.3h0M439.7 701.5h0M474.3 710.2h0M390.6 718.1h0M421.1 716.8h0M425.0 707.6h0M408.3 710.0h0M422.3 714.3h0M439.4 704.6h0M425.4 699.8h0M453.4 697.4h0M389.1 684.5h0M419.0 712.2h0M394.8 693.6h0M408.8 698.5h0M389.1 695.8h0M432.1 703.0h0M417.1 714.9h0M450.9 712.8h0M400.8 718.0h0M389.7 715.3h0M420.2 704.8h0M404.1 713.3h0M444.4 714.2h0M404.4 711.4h0M403.1 662.5h0M399.5 695.3h0M394.8 667.1h0M417.1 700.3h0M401.8 700.5h0M399.0 682.0h0M395.8 683.9h0M397.9 714.5h0M418.1 713.2h0M415.2 668.9h0M425.1 704.2h0M411.1 687.9h0M408.7 701.0h0M392.6 698.1h0M438.4 696.1h0M439.2 710.3h0M394.6 715.2h0M411.1 712.2h0M433.8 710.7h0M387.8 713.0h0M418.7 711.0h0M412.6 695.9h0M390.4 699.0h0M441.2 715.8h0M408.1 698.3h0M398.0 698.3h0M392.5 680.9h0M401.2 711.9h0M398.2 712.4h0M425.5 706.0h0M392.7 689.0h0M397.7 677.8h0M431.8 714.7h0M392.2 700.2h0M402.3 716.5h0M424.8 709.0h0M396.3 703.0h0M388.3 698.1h0M414.7 677.4h0M435.6 708.4h0M401.5 710.6h0M448.5 712.7h0M395.5 695.2h0M389.7 676.1h0M410.9 685.5h0M398.2 693.3h0M451.4 700.3h0M438.3 712.8h0M405.8 696.2h0M426.0 690.0h0M421.4 693.4h0M417.5 698.6h0M412.5 686.8h0M413.7 696.5h0M402.7 682.5h0M390.5 715.0h0M398.6 687.5h0M410.1 710.6h0M423.1 715.0h0M393.9 716.7h0M404.4 713.8h0M388.8 691.5h0M395.3 705.9h0M404.7 703.1h0M432.4 679.7h0M430.4 710.0h0M418.0 718.6h0M413.4 688.6h0M391.0 709.5h0M395.8 700.4h0M397.1 673.0h0M396.4 703.9h0M452.1 707.2h0M394.8 697.8h0M399.7 705.0h0M403.7 718.2h0M437.2 689.4h0M388.5 708.5h0M413.8 718.7h0M434.7 708.0h0M427.5 695.9h0M421.5 717.3h0M435.3 718.5h0M426.8 702.3h0M410.1 669.2h0M417.2 715.7h0M390.8 664.3h0M409.1 682.2h0M423.2 700.0h0M388.3 715.3h0M436.8 709.7h0M426.8 716.3h0M395.6 713.8h0M416.5 691.4h0M395.6 716.5h0M412.2 713.7h0M405.4 681.4h0M399.5 708.8h0M418.3 714.8h0M398.5 655.5h0M422.9 714.8h0M408.0 683.2h0M404.7 710.5h0M409.1 652.6h0M343.4 748.8h0M301.5 750.8h0M328.5 748.2h0M331.4 747.1h0M355.9 764.4h0M296.6 767.6h0M336.4 787.1h0M355.9 753.8h0M350.9 787.5h0M352.6 768.3h0M339.1 750.8h0M331.7 752.0h0M342.4 771.1h0M332.8 789.9h0M356.7 793.1h0M333.5 780.8h0M351.2 776.0h0M315.7 789.4h0M355.4 760.0h0M340.7 761.4h0M307.4 754.0h0M328.8 760.0h0M341.8 780.7h0M350.5 777.6h0M347.0 772.3h0M318.8 768.5h0M351.5 758.8h0M326.5 747.5h0M353.8 778.3h0M308.7 772.4h0M356.3 792.2h0M353.9 777.0h0M356.4 755.6h0M336.7 751.6h0M348.5 755.2h0M306.6 747.4h0M306.7 746.8h0M341.4 756.7h0M354.1 776.8h0M356.3 789.3h0M334.6 768.3h0M354.0 753.2h0M353.7 762.0h0M321.7 762.8h0M339.2 774.7h0M331.4 754.5h0M311.8 748.3h0M354.2 761.3h0M334.5 755.8h0M308.5 761.2h0M335.6 758.5h0M335.3 759.8h0M332.6 782.6h0M331.8 763.4h0M326.1 780.6h0M346.8 782.5h0M355.9 763.9h0M311.7 780.5h0M331.6 746.8h0M349.0 774.6h0M311.1 749.2h0M313.1 771.7h0M348.0 772.3h0M330.4 757.3h0M328.8 755.4h0M327.6 755.9h0M344.2 749.3h0M296.3 772.0h0M285.5 759.5h0M331.5 772.7h0M352.9 768.4h0M345.1 761.0h0M319.8 796.7h0M333.9 787.8h0M326.2 787.8h0M325.5 783.7h0M322.4 772.3h0M320.2 768.8h0M327.3 790.9h0M288.1 757.4h0M339.0 783.4h0M346.2 749.1h0M341.1 777.2h0M329.9 786.2h0M334.8 746.9h0M310.4 779.6h0M354.8 761.3h0M318.1 768.6h0M354.2 758.2h0M336.5 763.6h0M351.0 748.9h0M355.8 774.0h0M339.5 748.3h0M333.8 753.0h0M300.0 763.6h0M355.4 751.8h0M329.1 787.8h0M327.9 751.0h0M306.3 784.0h0M314.2 765.1h0M351.1 772.3h0M343.2 770.6h0M338.9 780.2h0M324.2 767.0h0M312.0 765.8h0M327.0 790.9h0M354.6 764.9h0M320.3 747.6h0M305.7 757.3h0M335.7 787.8h0M312.4 764.6h0M353.7 757.9h0M346.7 785.0h0M307.9 748.2h0M319.4 755.7h0M321.6 749.9h0M305.7 756.4h0M337.8 754.7h0M345.1 752.9h0M330.3 783.3h0M307.9 769.8h0M318.1 753.2h0M327.1 748.1h0M339.6 788.4h0M351.9 775.3h0M314.4 761.3h0M338.3 795.3h0M312.0 764.3h0M329.9 762.7h0M351.1 775.9h0M356.2 800.9h0M292.8 751.7h0M335.3 783.8h0M321.2 775.8h0M353.2 751.0h0M341.7 756.8h0M345.7 762.4h0M344.7 783.5h0M319.2 748.2h0M337.8 782.3h0M353.5 772.7h0M322.0 767.4h0M298.3 774.6h0M339.9 750.6h0M338.6 781.5h0M345.7 791.1h0M301.1 773.7h0M350.3 777.2h0M292.3 769.3h0M336.6 793.6h0M331.0 770.3h0M318.6 769.7h0M304.9 747.9h0M328.5 773.4h0M335.1 750.9h0M344.9 778.7h0M341.5 753.4h0M325.1 787.9h0M310.6 778.2h0M318.9 757.1h0M333.2 778.1h0M323.1 759.9h0M314.9 752.1h0M310.0 762.5h0M340.5 747.5h0M311.5 767.6h0M355.0 751.3h0M348.6 786.7h0M348.3 747.1h0M348.9 772.8h0M319.0 781.7h0M341.1 753.5h0M329.0 789.1h0M354.1 790.1h0M336.0 779.0h0M355.5 747.5h0M330.5 764.2h0M298.6 768.0h0M318.8 769.2h0M351.6 779.9h0M303.9 761.0h0M335.3 775.4h0M328.9 760.2h0M350.6 785.0h0M318.3 760.0h0M322.4 749.1h0M315.3 753.5h0M327.1 749.3h0M324.6 750.2h0M334.7 778.0h0M304.2 747.7h0M333.8 758.6h0M342.9 791.6h0M340.3 791.8h0M302.8 777.4h0M320.5 755.7h0M310.3 767.3h0M338.1 768.8h0M347.4 759.7h0M303.2 759.6h0M340.2 801.1h0M336.1 790.8h0M318.2 747.9h0M297.9 753.0h0M335.6 793.1h0M338.9 750.5h0M328.8 779.8h0M319.9 754.1h0M322.5 764.7h0M346.3 791.7h0M290.9 751.7h0M296.5 760.7h0M303.7 751.3h0M353.0 746.8h0M340.9 798.9h0M350.3 794.0h0M329.4 751.0h0M348.6 750.0h0M343.1 786.7h0M344.2 765.2h0M334.6 773.6h0M313.7 766.5h0M330.0 746.8h0M339.6 752.9h0M355.3 780.3h0M330.5 754.8h0M344.4 792.3h0M334.4 791.4h0M332.5 747.5h0M330.3 765.0h0M339.1 764.5h0M333.0 757.3h0M302.0 767.1h0M339.3 763.1h0M355.5 753.7h0M297.1 774.4h0M355.7 778.3h0M347.1 795.6h0M344.5 751.1h0M329.6 756.5h0M312.3 766.5h0M293.6 760.8h0M353.7 793.2h0M323.7 750.6h0M281.0 798.5h0M331.6 785.5h0M295.6 753.5h0M311.7 785.3h0M315.1 795.1h0M338.4 775.8h0M314.9 758.9h0M333.2 782.1h0M311.9 769.9h0M310.5 761.0h0M348.1 782.1h0M343.0 756.2h0M315.2 774.0h0M314.6 750.7h0M295.5 770.0h0M322.1 766.7h0M318.9 752.7h0M338.1 789.9h0M333.6 772.8h0M344.8 772.0h0M341.6 779.7h0M340.7 749.4h0M298.9 778.6h0M322.4 763.9h0M327.1 771.7h0M337.8 750.4h0M344.5 750.6h0M332.6 767.0h0M298.8 757.1h0M299.7 794.1h0M349.0 797.5h0M308.7 764.7h0M320.7 769.3h0M356.8 783.2h0M351.2 803.8h0M349.9 751.9h0M312.6 749.9h0M347.6 796.3h0M326.1 752.4h0M303.4 762.5h0M356.6 754.3h0M333.7 797.0h0M335.2 766.0h0M330.2 783.5h0M353.4 785.4h0M356.9 769.8h0M314.2 759.6h0M313.9 795.4h0M356.4 799.0h0M300.7 752.7h0M347.4 750.2h0M312.9 749.6h0M329.3 765.9h0M348.0 797.5h0M326.6 763.0h0M347.4 764.0h0M327.0 789.6h0M338.6 761.3h0M356.6 797.8h0M314.9 756.7h0M334.7 749.5h0M322.2 750.8h0M310.4 756.6h0M323.7 755.8h0M337.8 751.9h0M352.8 762.6h0M296.7 753.7h0M342.8 798.4h0M339.1 781.0h0M318.9 777.0h0M353.0 748.4h0M305.9 765.5h0M344.8 765.5h0M341.3 759.1h0M356.7 755.3h0M338.8 761.0h0M330.8 747.0h0M348.5 747.6h0M314.0 756.7h0M330.5 750.0h0M324.6 757.6h0M343.5 763.7h0M332.1 783.6h0M325.5 766.1h0M351.5 780.2h0M302.1 767.2h0M339.0 760.8h0M334.4 751.7h0M355.9 780.1h0M346.8 748.1h0M317.0 755.6h0M324.6 794.8h0M312.9 756.3h0M319.4 782.7h0M322.3 751.8h0M352.0 758.8h0M341.8 761.7h0M355.0 785.4h0M283.3 769.1h0M314.7 757.9h0M355.7 763.3h0M350.2 758.3h0M347.0 773.5h0M337.5 785.4h0M346.9 750.8h0M336.0 757.3h0M353.9 755.8h0M297.3 786.6h0M335.8 791.2h0M332.2 774.8h0M355.8 757.6h0M339.5 781.0h0M353.7 751.1h0M318.0 777.5h0M294.7 754.0h0M319.8 749.0h0M310.1 749.3h0M288.7 770.8h0M356.1 764.4h0M330.9 753.4h0M342.4 767.0h0M356.9 753.1h0M336.1 799.7h0M344.1 749.3h0M307.5 749.9h0M339.1 802.3h0M336.2 790.6h0M321.3 751.9h0M332.5 780.3h0M315.1 756.3h0M346.8 760.5h0M317.8 774.0h0M346.8 772.9h0M352.5 750.2h0M312.2 752.0h0M294.7 772.3h0M334.5 750.7h0M341.7 755.2h0M336.2 764.2h0M319.4 756.4h0M309.5 759.2h0M353.8 769.5h0M323.4 764.9h0M356.8 759.2h0M353.4 748.7h0M336.8 750.4h0M301.5 748.3h0M355.8 781.9h0M335.0 777.7h0M346.8 751.9h0M341.3 794.1h0M329.1 758.1h0M347.4 777.7h0M350.3 775.1h0M321.1 749.4h0M353.6 762.6h0M328.5 762.5h0M332.1 752.6h0M299.8 761.5h0M334.8 793.9h0M353.6 793.5h0M317.0 753.2h0M318.6 748.5h0M337.9 761.2h0M318.8 787.7h0M338.1 746.7h0M340.1 771.7h0M341.3 765.3h0M312.9 747.4h0M309.2 766.0h0M315.7 762.4h0M333.3 784.1h0M350.4 758.2h0M356.2 760.9h0M311.3 759.0h0M325.7 749.8h0M326.0 789.7h0M326.6 747.8h0M335.8 751.5h0M280.8 767.3h0M343.8 793.6h0M311.0 789.9h0M334.8 756.8h0M354.1 808.4h0M346.0 794.3h0M348.6 757.7h0M341.4 755.2h0M316.1 798.5h0M321.8 759.2h0M353.3 791.2h0M347.5 777.4h0M332.8 792.4h0M342.0 756.8h0M327.8 775.6h0M312.3 749.9h0M297.6 803.5h0M333.6 750.9h0M321.4 793.1h0M340.8 786.1h0M319.9 772.5h0M339.5 765.5h0M331.2 751.6h0M337.2 781.2h0M304.5 769.5h0M310.2 751.9h0M333.6 756.5h0M313.2 749.5h0M298.2 751.3h0M323.3 800.1h0M353.6 767.4h0M351.2 785.7h0M344.5 755.4h0M337.0 757.0h0M345.4 780.4h0M331.4 777.1h0M331.6 777.7h0M317.1 761.3h0M338.2 749.1h0M311.0 789.8h0M354.6 791.9h0M335.2 781.8h0M339.1 754.4h0M356.9 763.6h0M311.7 760.5h0M309.6 778.1h0M330.9 758.8h0M336.8 774.3h0M355.0 755.1h0M298.2 755.1h0M352.8 791.6h0M353.4 758.9h0M309.6 770.5h0M295.5 765.7h0M328.7 753.5h0M321.1 748.2h0M330.4 767.7h0M314.1 755.5h0M348.9 793.7h0M320.5 752.8h0M355.0 749.4h0M319.5 747.6h0M312.0 761.0h0M338.7 759.5h0M334.0 759.8h0M336.5 789.7h0M314.7 748.6h0M349.8 771.7h0M340.4 788.8h0M332.6 781.1h0M302.0 748.0h0M339.9 748.7h0M344.2 796.0h0M324.0 769.2h0M319.5 770.4h0M309.3 746.7h0M351.6 749.0h0M348.7 795.4h0M328.1 748.0h0M350.1 788.5h0M323.4 765.8h0M295.4 778.7h0M336.4 782.6h0M325.9 759.7h0M338.3 760.8h0M308.5 783.8h0M354.5 769.7h0M356.1 769.3h0M353.6 786.2h0M305.9 757.6h0M279.7 768.0h0M339.1 799.0h0M323.5 772.3h0M318.3 777.2h0M356.2 777.7h0M350.1 761.3h0M336.4 756.1h0M327.2 787.9h0M326.2 767.9h0M337.9 786.5h0M316.8 795.4h0M349.4 768.7h0M347.2 771.6h0M331.3 754.0h0M352.6 758.4h0M317.7 760.7h0M355.8 788.5h0M348.9 749.1h0M345.8 763.1h0M329.7 747.4h0M313.9 766.6h0M334.7 772.4h0M334.9 753.4h0M338.2 756.2h0M354.3 801.5h0M309.4 783.5h0M346.9 761.8h0M309.6 763.2h0M297.0 772.6h0M316.9 755.7h0M344.9 776.1h0M300.1 763.4h0M338.9 776.1h0M336.4 763.2h0M350.4 778.2h0M314.5 765.9h0M318.9 757.1h0M356.0 756.0h0M352.4 757.6h0M340.4 783.5h0M307.4 752.5h0M323.7 780.1h0M338.2 792.1h0M326.5 799.7h0M316.7 749.1h0M324.9 786.8h0M304.8 769.1h0M332.2 769.4h0M318.0 746.9h0M329.8 756.5h0M322.6 759.5h0M355.7 772.1h0M345.8 763.3h0M335.2 769.0h0M356.1 752.7h0M332.7 786.4h0M326.9 769.3h0M332.9 749.3h0M348.2 771.1h0M289.0 770.7h0M318.7 765.4h0M349.5 773.6h0M317.6 778.1h0M314.2 789.7h0M312.4 761.1h0M303.7 749.5h0M326.2 773.0h0M351.5 780.6h0M304.7 772.6h0M293.7 776.3h0M321.4 750.9h0M332.1 753.9h0M355.1 776.7h0M312.3 778.9h0M340.1 803.3h0M350.7 785.0h0M328.0 790.9h0M326.2 796.0h0M356.1 750.0h0M353.0 765.5h0M347.8 784.4h0M320.5 747.8h0M344.5 790.3h0M338.7 747.8h0M322.3 785.7h0M329.5 752.8h0M328.6 771.2h0M348.7 773.5h0M340.2 789.6h0M353.9 755.4h0M349.8 763.5h0M353.9 756.7h0M322.9 784.0h0M322.5 749.2h0M351.2 807.6h0M315.7 758.9h0M328.5 753.7h0M342.4 754.7h0M340.8 751.9h0M319.2 758.3h0M310.4 751.4h0M315.0 751.5h0M348.5 773.3h0M314.6 756.4h0M348.3 749.2h0M340.0 773.1h0M325.6 766.7h0M315.7 755.6h0M348.5 765.7h0M317.0 746.9h0M324.3 767.5h0M324.9 758.6h0M305.3 770.9h0M314.7 779.2h0M355.4 766.5h0M320.4 746.9h0M328.8 778.7h0M346.2 755.8h0M312.6 772.6h0M347.1 756.3h0M335.7 801.5h0M321.3 749.0h0M328.1 763.4h0M335.9 750.2h0M317.6 752.0h0M294.3 760.1h0M345.7 770.2h0M345.0 757.8h0M307.4 755.5h0M339.1 777.1h0M352.2 756.4h0M347.2 748.5h0M311.1 749.6h0M339.0 769.0h0M338.0 758.7h0M308.6 750.8h0M295.3 755.4h0M323.1 747.0h0M326.7 763.9h0M349.9 774.4h0M337.0 788.1h0M312.1 751.8h0M355.0 750.1h0M352.4 747.0h0M323.9 779.3h0M351.5 783.4h0M342.4 778.9h0M333.6 780.3h0M312.5 775.6h0M318.9 778.6h0M349.1 765.2h0M338.4 751.7h0M319.0 763.1h0M309.3 769.0h0M312.7 749.3h0M343.6 754.4h0M354.5 792.0h0M315.2 781.6h0M297.6 767.9h0M347.9 755.2h0M304.5 759.2h0M342.9 797.2h0M354.2 767.8h0M333.3 752.3h0M344.0 772.7h0M345.7 750.6h0M318.5 769.4h0M313.3 746.8h0M342.8 790.8h0M345.1 762.5h0M350.7 748.3h0M335.4 790.4h0M336.4 768.4h0M309.1 786.8h0M333.4 754.4h0M333.6 748.3h0M326.2 746.8h0M344.9 759.2h0M340.4 777.7h0M349.3 765.6h0M307.2 760.0h0M333.8 775.6h0M331.3 759.3h0M333.6 750.4h0M322.6 757.2h0M356.2 773.4h0M351.6 791.4h0M333.9 769.4h0M326.1 764.3h0M351.4 766.6h0M352.2 757.9h0M348.5 785.7h0M342.8 751.9h0M315.5 748.0h0M352.8 796.7h0M325.5 752.1h0M340.1 755.9h0M294.9 764.6h0M325.8 758.9h0M345.3 805.3h0M348.2 784.0h0M347.7 749.2h0M353.4 752.4h0M311.2 773.1h0M333.0 763.6h0M306.8 757.0h0M350.3 759.6h0M344.8 805.0h0M331.2 763.2h0M339.6 757.8h0M329.4 769.0h0M326.4 785.8h0M355.1 771.7h0M302.1 748.5h0M319.0 757.4h0M297.8 764.6h0M354.8 760.4h0M320.8 780.2h0M337.1 748.3h0M356.2 752.1h0M354.9 767.0h0M319.0 753.8h0M332.2 758.2h0M328.5 779.8h0M311.5 756.8h0M356.1 796.3h0M334.6 747.0h0M320.0 755.9h0M331.1 747.7h0M335.6 746.8h0M343.4 791.5h0M347.9 752.6h0M352.2 783.6h0M351.6 749.6h0M351.8 770.5h0M352.4 777.3h0M352.4 753.2h0M328.2 796.0h0M348.5 750.8h0M303.7 749.3h0M320.4 778.2h0M346.5 752.9h0M350.4 781.7h0M341.0 751.8h0M302.3 774.1h0M338.8 747.8h0M330.9 794.8h0M312.1 794.6h0M340.3 750.0h0M336.5 762.7h0M287.4 761.9h0M349.3 760.7h0M343.0 747.3h0M325.1 801.8h0M355.1 759.4h0M292.2 750.3h0M301.4 749.3h0M320.3 765.4h0M335.7 780.9h0M332.3 770.0h0M332.3 765.0h0M356.3 752.5h0M332.9 779.7h0M355.8 760.3h0M350.4 748.5h0M319.0 748.0h0M340.5 773.6h0M296.6 754.8h0M349.6 782.2h0M354.1 762.2h0M313.1 749.1h0M351.8 760.7h0M331.2 784.8h0M290.8 760.0h0M315.7 753.6h0M328.4 748.1h0M356.2 781.0h0M304.0 751.2h0M354.4 761.6h0M314.2 773.7h0M343.5 772.0h0M356.3 766.5h0M321.3 754.0h0M331.2 799.3h0M296.8 763.1h0M329.7 767.6h0M322.2 762.5h0M289.2 769.7h0M327.9 767.7h0M300.4 749.7h0M341.7 776.2h0M309.5 766.7h0M333.5 777.4h0M330.9 769.4h0M350.8 755.7h0M319.3 789.3h0M348.3 788.5h0M314.9 767.0h0M342.4 747.6h0M320.6 786.0h0M328.8 751.2h0M302.0 779.9h0M335.5 783.4h0M303.1 795.5h0M322.9 770.3h0M348.5 772.3h0M323.7 801.3h0M335.5 764.8h0M351.1 774.0h0M352.8 750.3h0M340.1 752.0h0M339.4 751.2h0M353.3 758.2h0M325.1 747.3h0M354.4 765.9h0M349.0 795.2h0M350.5 767.4h0M312.8 766.9h0M354.7 807.8h0M349.4 756.6h0M352.0 778.8h0M339.7 776.4h0M299.7 755.8h0M350.9 774.6h0M279.4 761.0h0M356.8 783.1h0M354.8 759.0h0M337.8 760.4h0M335.5 789.9h0M318.5 763.7h0M355.9 752.0h0M343.5 751.3h0M354.8 754.7h0M341.3 764.1h0M318.0 765.6h0M352.0 751.6h0M314.4 752.6h0M350.9 758.0h0M347.7 778.9h0M349.2 750.2h0M333.9 762.9h0M320.6 750.0h0M328.4 755.3h0M304.9 757.8h0M296.2 754.5h0M324.7 779.0h0M315.3 769.1h0M355.2 780.7h0M335.1 792.2h0M333.7 781.2h0M327.8 775.7h0M316.5 749.7h0M335.6 768.8h0M325.4 776.6h0M325.3 766.9h0M336.3 760.0h0M312.3 775.2h0M308.7 792.2h0M309.1 753.8h0M315.1 747.8h0M336.1 778.3h0M306.8 765.6h0M323.5 752.0h0M328.0 763.8h0M341.7 771.2h0M339.4 802.3h0M317.4 756.4h0M320.7 769.6h0M305.9 757.3h0M340.1 751.0h0M311.4 757.6h0M309.6 756.2h0M287.2 771.9h0M323.3 750.8h0M350.4 765.9h0M313.4 789.5h0M301.7 757.2h0M343.8 768.5h0M307.0 782.7h0M296.1 755.2h0M327.2 766.3h0M347.9 765.0h0M299.8 746.6h0M356.7 753.2h0M343.5 748.5h0M285.5 776.4h0M326.4 783.4h0M332.9 755.9h0M343.7 774.8h0M292.8 781.8h0M349.3 750.6h0M349.7 782.2h0M325.5 796.2h0M352.5 794.5h0M349.3 749.2h0M331.1 788.1h0M306.7 771.4h0M356.2 777.3h0M336.5 792.1h0M351.8 770.8h0M350.2 783.4h0M335.3 792.5h0M325.4 761.5h0M341.5 790.0h0M347.1 779.4h0M350.1 768.2h0M296.0 754.3h0M346.1 779.4h0M316.6 752.3h0M326.2 785.8h0M324.1 770.1h0M350.7 765.1h0M305.9 753.7h0M323.2 753.6h0M308.9 747.8h0M303.2 765.9h0M312.6 752.0h0M344.6 753.3h0M348.2 761.1h0M323.6 755.9h0M311.9 751.3h0M349.6 792.0h0M301.4 754.6h0M320.0 763.6h0M309.1 798.2h0M312.3 757.5h0M307.0 779.6h0M327.3 757.7h0M354.2 753.6h0M307.6 746.9h0M352.9 752.7h0M322.1 778.9h0M324.1 772.1h0M335.8 791.6h0M318.5 771.4h0M325.7 761.7h0M344.1 756.6h0M342.3 784.9h0M306.9 758.5h0M333.8 761.3h0M331.9 768.1h0M297.1 770.9h0M325.2 746.7h0M289.5 791.4h0M348.0 759.1h0M323.0 752.4h0M341.3 769.9h0M318.4 797.6h0M337.5 747.3h0M335.4 772.8h0M326.9 757.0h0M334.6 782.0h0M332.0 749.5h0M334.7 755.0h0M313.0 755.1h0M347.7 788.2h0M309.8 756.1h0M332.6 761.4h0M323.7 774.3h0M353.0 752.4h0M344.9 767.6h0M336.1 769.3h0M305.8 755.2h0M326.0 787.9h0M347.9 771.2h0M345.2 749.8h0M350.7 750.2h0M336.5 788.4h0M353.6 763.3h0M327.1 760.1h0M313.8 761.2h0M322.2 766.1h0M333.7 795.2h0M344.5 756.4h0M331.1 785.1h0M328.6 747.0h0M348.6 756.9h0M311.1 761.0h0M346.5 768.2h0M344.8 772.1h0M338.1 797.3h0M304.3 753.2h0M303.8 780.9h0M341.2 748.6h0M352.5 763.4h0M350.1 756.6h0M326.9 802.3h0M335.0 746.7h0M310.5 749.4h0M309.8 792.1h0M343.5 808.4h0M338.5 782.8h0M313.7 755.9h0M344.6 755.9h0M289.8 758.9h0M301.0 749.3h0M287.3 770.1h0M317.8 751.3h0M313.5 752.5h0M319.7 748.4h0M347.7 773.3h0M332.8 747.0h0M356.1 750.8h0M356.1 772.6h0M300.9 760.8h0M354.7 781.7h0M323.4 786.0h0M343.8 788.5h0M313.8 764.0h0M310.0 749.6h0M350.2 753.7h0M299.0 781.0h0M352.0 758.9h0M318.9 780.0h0M350.7 761.4h0M324.9 754.2h0M319.3 770.1h0M301.3 748.2h0M349.0 762.1h0M344.2 787.8h0M306.8 750.9h0M337.2 763.4h0M342.5 752.6h0M350.4 752.3h0M353.3 758.0h0M349.3 751.8h0M288.6 765.1h0M339.1 754.6h0M335.8 754.1h0M344.3 748.4h0M352.0 788.0h0M305.5 763.4h0M342.2 774.4h0M344.7 772.2h0M309.0 749.7h0M354.3 788.9h0M305.7 772.2h0M343.4 784.5h0M316.5 748.8h0M293.6 773.7h0M322.7 786.4h0M352.1 792.5h0M318.5 761.8h0M337.5 778.2h0M333.1 760.8h0M340.3 758.7h0M350.2 787.4h0M346.7 780.9h0M312.2 788.7h0M308.8 764.0h0M323.6 772.2h0M322.4 751.1h0M327.1 748.6h0M319.2 763.1h0M338.0 752.5h0M318.9 793.7h0M325.0 781.3h0M349.1 761.8h0M329.5 769.5h0M333.1 774.3h0M321.1 778.9h0M327.1 757.7h0M355.0 763.7h0M349.1 752.0h0M349.2 756.8h0M323.8 768.7h0M354.8 782.1h0M301.7 751.1h0M329.6 772.8h0M317.7 753.1h0M345.8 755.0h0M319.9 756.3h0M336.3 783.3h0M341.8 750.6h0M309.0 805.0h0M343.5 776.4h0M350.5 765.2h0M331.7 751.1h0M334.5 750.9h0M344.4 755.7h0M329.7 772.7h0M346.1 750.8h0M334.8 798.5h0M346.9 773.6h0M335.8 766.9h0M338.8 776.7h0M327.7 774.8h0M327.1 753.4h0M347.1 754.8h0M321.9 769.6h0M352.4 756.3h0M319.9 784.5h0M327.7 764.4h0M330.3 750.2h0M330.1 748.7h0M338.2 760.9h0M323.5 758.6h0M351.7 753.7h0M357.0 750.0h0M321.8 758.2h0M341.1 747.2h0M347.7 770.1h0M326.8 778.5h0M286.9 781.3h0M354.3 759.6h0M342.4 780.3h0M346.4 791.7h0M399.7 766.1h0M391.2 751.6h0M388.8 760.9h0M394.2 800.0h0M399.2 784.3h0M399.8 776.5h0M438.2 793.7h0M388.7 776.8h0M390.6 772.7h0M411.0 762.9h0M417.2 748.0h0M427.0 764.8h0M393.1 778.5h0M396.5 765.3h0M397.7 788.3h0M447.4 756.7h0M395.0 747.5h0M396.3 788.3h0M397.7 760.5h0M416.3 787.6h0M442.6 748.5h0M407.8 754.6h0M392.5 762.9h0M396.6 748.5h0M400.3 785.2h0M392.0 766.2h0M439.7 758.8h0M397.5 778.3h0M458.2 794.0h0M403.8 761.3h0M391.7 756.9h0M400.0 763.4h0M399.2 750.3h0M409.0 757.9h0M388.7 766.4h0M400.4 764.7h0M443.0 761.8h0M406.3 796.3h0M395.5 777.1h0M437.5 752.8h0M421.3 746.8h0M392.9 771.8h0M412.1 748.6h0M427.8 747.5h0M433.0 775.1h0M406.1 790.1h0M393.3 783.8h0M401.2 783.4h0M388.6 769.7h0M428.6 765.1h0M448.5 765.8h0M390.2 754.7h0M388.1 781.1h0M395.7 762.9h0M412.0 752.5h0M400.3 763.0h0M411.1 759.6h0M400.5 773.1h0M441.2 795.9h0M398.2 759.3h0M416.9 752.6h0M389.3 779.2h0M421.4 757.5h0M421.2 786.9h0M389.6 777.1h0M420.2 749.5h0M421.7 748.2h0M395.5 766.6h0M391.1 759.2h0M398.9 804.4h0M414.2 760.0h0M394.4 784.6h0M427.3 781.4h0M402.0 756.2h0M431.3 763.8h0M393.7 796.5h0M401.1 756.1h0M409.2 770.3h0M398.9 747.2h0M397.0 759.3h0M428.5 776.4h0M440.7 795.7h0M400.8 748.8h0M423.6 759.8h0M394.3 765.9h0M404.6 757.5h0M390.5 756.8h0M391.9 747.3h0M410.2 786.2h0M392.5 789.3h0M412.4 752.4h0M402.5 755.9h0M403.5 797.8h0M391.9 750.8h0M388.6 776.0h0M451.6 794.2h0M425.3 776.6h0M388.1 751.7h0M399.6 772.2h0M398.9 773.6h0M410.6 775.1h0M446.7 748.5h0M402.8 762.7h0M415.9 772.8h0M404.0 773.7h0M394.8 781.8h0M395.8 774.4h0M406.0 753.4h0M394.5 755.4h0M395.6 750.6h0M437.8 792.3h0M392.7 760.7h0M393.4 790.9h0M403.6 777.2h0M441.2 750.6h0M396.3 755.4h0M431.9 749.7h0M398.0 787.6h0M437.0 787.6h0M411.9 752.8h0M400.6 783.6h0M415.5 764.8h0M388.8 761.4h0M453.4 755.7h0M391.8 752.4h0M402.9 767.5h0M396.2 813.7h0M394.5 750.8h0M393.7 759.6h0M390.1 788.4h0M390.9 774.5h0M398.6 785.0h0M416.7 758.0h0M388.4 786.1h0M408.8 752.2h0M438.0 782.2h0M400.2 762.3h0M406.6 758.6h0M397.1 756.3h0M389.8 758.4h0M416.9 784.2h0M400.0 755.6h0M389.4 798.1h0M388.8 795.8h0M393.8 778.4h0M399.9 754.5h0M391.3 784.8h0M396.3 752.8h0M396.0 776.5h0M458.2 755.2h0M398.7 751.1h0M389.7 789.7h0M412.5 750.3h0M415.5 791.5h0M396.7 771.4h0M436.6 757.2h0M389.3 789.0h0M415.5 751.5h0M408.0 749.0h0M411.7 789.3h0M389.4 756.6h0M406.3 789.2h0M401.7 806.5h0M412.2 752.8h0M411.4 750.9h0M443.1 749.3h0M404.6 784.4h0M408.4 793.7h0M423.5 751.5h0M399.9 754.3h0M425.2 786.4h0M408.1 752.0h0M388.2 786.3h0M439.4 752.3h0M424.8 761.8h0M411.8 774.8h0M392.0 779.7h0M391.5 755.6h0M460.6 754.4h0M392.2 786.4h0M405.2 780.3h0M398.9 749.2h0M408.8 747.2h0M395.1 778.3h0M433.6 766.9h0M401.9 754.9h0M388.7 748.2h0M441.5 751.1h0M391.0 776.4h0M402.7 747.2h0M389.2 786.3h0M453.7 762.2h0M399.8 779.0h0M403.3 747.2h0M396.3 770.5h0M400.4 788.2h0M388.0 753.9h0M407.7 747.2h0M392.8 771.9h0M443.0 757.9h0M402.6 765.3h0M424.4 768.4h0M400.5 789.9h0M420.4 754.3h0M432.2 788.6h0M413.1 752.2h0M420.5 793.6h0M423.3 752.9h0M440.4 758.3h0M400.1 793.0h0M392.9 798.4h0M392.3 747.1h0M424.5 754.0h0M423.9 771.1h0M451.1 751.2h0M400.8 787.5h0M388.2 771.4h0M392.2 814.9h0M399.4 796.5h0M407.2 759.4h0M392.7 786.8h0M391.5 779.2h0M402.2 747.1h0M413.0 750.9h0M393.4 784.6h0M392.8 781.4h0M434.4 763.0h0M397.4 783.7h0M390.4 792.2h0M411.6 747.6h0M388.9 770.2h0M397.5 792.8h0M412.0 752.6h0M436.9 751.8h0M409.9 756.6h0M392.6 764.1h0M410.7 768.6h0M392.9 760.3h0M398.5 795.1h0M422.6 755.9h0M395.8 766.4h0M397.4 751.2h0M389.4 763.9h0M431.7 751.3h0M404.4 758.9h0M411.8 765.6h0M395.2 793.1h0M407.9 759.5h0M391.8 758.5h0M397.9 764.5h0M394.9 771.8h0M390.4 750.1h0M414.5 788.0h0M408.6 752.1h0M405.7 799.1h0M390.7 764.8h0M387.9 764.0h0M438.9 751.9h0M404.9 812.3h0M474.2 761.8h0M406.4 772.8h0M423.7 747.0h0M426.7 764.8h0M417.8 779.3h0M400.8 788.9h0M444.6 757.2h0M418.2 750.5h0M420.1 749.6h0M411.2 773.5h0M439.8 777.5h0M388.5 775.1h0M424.9 781.4h0M390.5 765.6h0M406.6 764.7h0M402.8 783.9h0M441.9 753.4h0M402.2 757.6h0M399.0 758.1h0M408.3 753.5h0M441.3 771.8h0M398.7 785.5h0M434.8 753.7h0M394.9 763.8h0M394.6 792.8h0M420.7 758.0h0M400.1 753.6h0M445.3 801.5h0M402.0 772.7h0M397.0 754.5h0M388.6 770.6h0M388.3 785.4h0M398.5 771.5h0M401.4 751.8h0M403.0 782.6h0M396.9 765.0h0M419.8 770.8h0M406.9 772.9h0M423.5 771.7h0M399.0 746.8h0M411.7 762.4h0M395.0 777.3h0M432.7 758.5h0M412.0 755.1h0M397.1 756.2h0M411.6 789.4h0M395.6 758.8h0M415.5 802.7h0M414.1 760.5h0M431.2 773.9h0M423.3 749.9h0M394.9 799.1h0M400.8 764.6h0M431.5 753.4h0M392.7 747.9h0M389.5 771.3h0M430.8 757.4h0M391.3 779.3h0M396.9 778.2h0M411.0 747.6h0M395.8 750.8h0M439.2 794.6h0M409.2 752.2h0M440.6 788.9h0M400.4 753.1h0M431.8 782.2h0M394.5 764.1h0M397.7 768.3h0M394.7 769.7h0M393.9 790.3h0M453.2 757.1h0M388.8 786.6h0M431.8 801.2h0M388.4 761.4h0M425.6 748.8h0M435.3 761.9h0M388.9 773.3h0M425.1 770.0h0M395.9 752.2h0M396.7 753.4h0M396.2 768.2h0M419.0 747.2h0M392.8 802.0h0M388.3 782.7h0M402.2 769.2h0M448.0 784.8h0M392.6 754.1h0M400.5 750.3h0M416.8 747.1h0M430.2 768.5h0M391.3 771.1h0M402.6 762.4h0M434.3 747.1h0M400.1 760.5h0M396.3 766.0h0M404.7 747.0h0M398.3 775.0h0M391.1 760.0h0M415.5 757.0h0M390.9 776.4h0M415.6 754.7h0M431.7 795.8h0M403.3 761.0h0M393.9 778.1h0M389.7 757.3h0M425.4 779.3h0M396.9 777.2h0M430.8 754.1h0M444.0 749.1h0M402.2 785.3h0M424.0 757.1h0M418.0 761.3h0M427.1 760.9h0M388.0 764.8h0M402.0 781.9h0M398.2 748.5h0M444.3 762.2h0M403.0 746.8h0M404.4 762.5h0M408.5 772.5h0M405.0 756.3h0M390.4 770.6h0M410.0 762.7h0M426.7 782.3h0M419.6 753.9h0M390.4 760.5h0M431.1 772.4h0M388.3 776.2h0M406.6 759.7h0M387.9 767.5h0M393.7 787.2h0M415.0 783.3h0M389.8 757.8h0M425.3 792.7h0M426.5 774.9h0M398.8 766.5h0M424.8 764.0h0M406.4 754.9h0M402.8 753.6h0M436.3 787.8h0M404.7 789.9h0M391.5 797.8h0M395.0 775.8h0M424.5 783.9h0M397.0 790.5h0M410.8 758.8h0M429.3 763.0h0M401.3 758.3h0M390.6 784.0h0M439.7 758.4h0M397.9 786.5h0M393.7 776.7h0M404.3 754.2h0M393.8 780.6h0M395.6 768.7h0M395.9 796.6h0M388.1 761.1h0M403.6 752.5h0M388.6 772.1h0M420.2 776.3h0M406.4 756.9h0M391.2 761.7h0M396.2 782.5h0M416.1 748.2h0M400.9 770.2h0M413.4 755.4h0M436.5 751.1h0M449.6 792.6h0M451.2 749.0h0M422.1 754.8h0M393.8 771.9h0M393.3 759.7h0M417.9 748.5h0M399.7 777.7h0M409.6 748.4h0M418.5 762.1h0M398.4 790.4h0M389.7 754.7h0M404.2 767.3h0M403.3 749.0h0M411.8 760.2h0M422.2 780.4h0M391.5 797.8h0M397.7 762.8h0M445.7 754.8h0M403.1 752.9h0M399.5 791.6h0M440.5 765.5h0M422.5 762.4h0M429.3 755.5h0M428.7 768.0h0M402.8 759.8h0M403.2 779.1h0M399.0 746.7h0M409.3 774.6h0M454.8 810.5h0M397.6 758.1h0M398.5 761.8h0M446.4 751.7h0M395.4 755.5h0M398.8 783.3h0M412.3 749.7h0M405.1 783.8h0M409.1 782.4h0M398.4 765.4h0M398.5 770.5h0M407.4 747.9h0M412.0 751.4h0M404.8 769.9h0M420.0 780.6h0M421.8 752.4h0M404.2 751.2h0M412.4 781.0h0M427.7 746.7h0M407.8 749.7h0M408.5 766.9h0M414.0 763.6h0M411.7 757.4h0M404.5 757.1h0M411.9 757.9h0M408.8 766.7h0M404.1 764.4h0M432.9 751.6h0M411.5 773.8h0M400.5 754.6h0M392.4 769.9h0M425.0 749.8h0M411.3 771.0h0M407.4 772.7h0M397.9 747.8h0M396.8 762.0h0M406.6 749.1h0M414.7 787.8h0M390.5 776.4h0M388.1 785.2h0M394.4 748.2h0M404.9 759.9h0M390.7 762.5h0M419.8 758.8h0M413.0 757.8h0M399.1 752.3h0M393.9 776.8h0M394.2 771.2h0M419.4 750.3h0M443.7 750.8h0M409.3 803.6h0M408.0 755.3h0M390.1 770.2h0M397.9 773.0h0M431.8 801.8h0M409.4 759.1h0M396.8 786.4h0M389.5 761.0h0M402.7 790.3h0M395.0 802.8h0M447.1 751.5h0M437.9 747.2h0M431.5 748.2h0M436.5 763.9h0M432.1 752.6h0M398.6 795.6h0M396.5 758.1h0M390.6 773.0h0M432.6 751.0h0M388.8 758.8h0M418.1 780.1h0M430.8 782.5h0M407.1 778.8h0M397.9 769.3h0M399.5 750.9h0M426.3 748.2h0M389.7 795.2h0M395.3 781.6h0M441.5 792.5h0M397.2 778.5h0M392.1 770.2h0M445.3 794.4h0M391.9 770.2h0M398.3 787.9h0M409.4 758.8h0M389.0 750.3h0M429.7 748.2h0M398.0 768.8h0M403.3 747.8h0M435.0 771.0h0M444.6 756.8h0M403.5 783.7h0M389.0 785.5h0M420.7 748.0h0M428.2 807.3h0M451.7 752.4h0M417.4 778.8h0M433.0 776.9h0M407.5 806.8h0M426.3 747.6h0M425.0 761.7h0M431.5 787.9h0M389.4 783.8h0M401.4 784.8h0M396.0 780.2h0M399.8 797.2h0M438.2 747.1h0M395.7 755.9h0M388.2 774.5h0M395.0 779.1h0M401.5 762.7h0M414.7 759.6h0M396.4 780.7h0M404.0 760.4h0M388.7 774.5h0M450.3 751.3h0M417.8 770.6h0M400.8 786.6h0M397.4 759.6h0M401.9 766.1h0M388.3 755.8h0M417.1 747.4h0M451.2 778.9h0M407.3 761.0h0M398.6 773.7h0M427.2 747.1h0M389.2 796.9h0M388.5 753.5h0M395.4 795.5h0M409.4 749.5h0M398.8 753.7h0M422.5 766.9h0M389.9 783.6h0M397.5 780.7h0M398.9 749.3h0M392.5 796.1h0M388.8 773.3h0M407.4 749.7h0M394.5 770.8h0M390.9 773.3h0M390.4 750.8h0M412.4 757.1h0M406.3 754.8h0M397.4 767.7h0M429.7 749.2h0M410.4 773.8h0M416.0 793.4h0M415.0 761.2h0M425.3 779.5h0M405.5 766.9h0M392.8 752.0h0M442.1 756.8h0M409.9 760.7h0M391.3 762.9h0M398.2 768.7h0M397.1 754.6h0M392.4 789.0h0M407.4 764.7h0M409.2 750.6h0M396.5 783.9h0M393.6 796.5h0M413.0 747.5h0M422.2 749.6h0M418.2 766.3h0M403.5 758.7h0M393.6 779.7h0M412.4 754.8h0M406.8 767.7h0M401.8 780.6h0M389.7 777.3h0M437.8 747.7h0M408.7 769.0h0M390.7 773.0h0M424.8 757.5h0M450.7 752.4h0M407.9 753.8h0M391.9 790.0h0M388.3 776.7h0M423.1 753.8h0M421.3 756.4h0M399.3 776.7h0M406.4 748.4h0M396.1 789.8h0M399.6 784.5h0M452.5 786.3h0M452.5 759.2h0M435.6 752.6h0M397.2 759.5h0M397.5 762.5h0M396.3 786.4h0M449.3 785.4h0M387.8 807.4h0M423.7 748.2h0M391.3 791.2h0M404.0 769.6h0M413.7 749.0h0M400.1 772.3h0M465.4 763.0h0M401.1 774.2h0M414.1 783.3h0M409.5 755.2h0M396.1 759.5h0M410.9 784.8h0M418.2 747.7h0M397.6 775.8h0M412.4 763.7h0M436.8 749.8h0M396.3 780.7h0M401.1 769.7h0M392.3 748.3h0M411.3 752.0h0M405.2 747.5h0M432.7 756.6h0M389.4 774.8h0M407.9 767.6h0M399.7 757.4h0M388.4 785.3h0M396.5 760.8h0M399.0 806.4h0M396.0 767.7h0M394.7 768.7h0M403.0 765.1h0M388.7 752.2h0M400.8 782.8h0M429.7 748.8h0M412.5 781.9h0M401.7 749.4h0M421.7 755.6h0M399.1 785.9h0M403.0 808.7h0M392.6 753.8h0M422.1 764.8h0M393.4 777.9h0M388.3 757.0h0M392.9 795.4h0M466.0 759.3h0M440.1 747.0h0M388.0 771.0h0M412.0 757.2h0M398.5 777.5h0M395.6 778.9h0M389.0 781.2h0M399.1 761.8h0M420.4 773.0h0M439.6 758.0h0M391.8 796.6h0M403.2 774.7h0M393.8 787.9h0M398.4 750.1h0M406.9 784.0h0M419.1 752.5h0M436.9 749.0h0M389.7 762.4h0M392.1 748.3h0M389.4 775.0h0M405.6 752.6h0M390.8 754.7h0M449.5 787.2h0M397.5 782.0h0M411.5 750.6h0M405.8 752.0h0M404.9 753.2h0M396.7 773.0h0M394.6 749.3h0M389.2 749.7h0M411.8 753.6h0M436.6 751.0h0M407.2 794.2h0M398.3 749.4h0M400.4 748.8h0M419.6 757.6h0M419.5 759.6h0M401.0 747.1h0M436.2 774.0h0M403.4 767.1h0M393.8 767.1h0M405.1 763.5h0M429.0 749.7h0M391.7 788.4h0M389.5 769.9h0M427.2 756.7h0M437.8 795.2h0M436.1 767.2h0M417.5 747.9h0M443.0 759.1h0M392.1 764.3h0M404.3 761.9h0M392.5 786.0h0M436.0 755.8h0M402.8 766.7h0M414.9 785.7h0M404.2 754.7h0M433.0 765.1h0M438.1 787.5h0M432.8 769.1h0M398.8 777.8h0M422.5 747.4h0M401.1 761.3h0M429.6 771.6h0M389.8 786.5h0M403.2 780.9h0M424.4 755.3h0M414.8 749.5h0M431.1 753.6h0M395.5 750.9h0M402.0 774.0h0M396.2 763.1h0M419.7 798.9h0M413.3 757.4h0M392.6 784.3h0M393.6 786.9h0M416.2 776.6h0M430.2 784.9h0M408.5 767.7h0M433.8 747.1h0M412.4 748.3h0M391.1 773.5h0M428.8 752.9h0M410.4 750.3h0M391.4 762.1h0M398.2 754.4h0M397.6 773.8h0M412.0 763.9h0M447.7 748.4h0M422.6 755.8h0M432.5 748.0h0M400.8 786.2h0M396.6 763.6h0M425.2 761.9h0M397.6 783.8h0M418.0 768.6h0M409.4 748.5h0M408.3 778.2h0M409.5 747.6h0M442.8 751.3h0M394.8 778.7h0M411.5 792.5h0M418.0 790.7h0M396.3 749.4h0M406.2 748.3h0M394.5 752.6h0M406.3 769.0h0M416.0 764.8h0M437.7 759.5h0M422.9 754.5h0M418.4 778.0h0M414.8 747.2h0M442.1 756.4h0M399.6 754.8h0M407.8 778.3h0M390.1 778.7h0M399.9 751.2h0M389.8 776.8h0M419.2 756.8h0M400.6 753.3h0M400.0 768.9h0M402.0 775.7h0M398.3 748.1h0M395.8 790.2h0M420.5 755.7h0M394.9 785.2h0M406.6 812.8h0M399.0 767.1h0M394.2 765.4h0M401.7 767.2h0M396.1 786.4h0M396.5 783.4h0M446.3 750.8h0M398.9 748.7h0M429.8 754.9h0M439.0 759.1h0M389.8 751.3h0M452.1 804.1h0M456.5 753.4h0M412.1 749.5h0M399.5 781.8h0M395.9 762.1h0M299.4 667.7h0M296.9 668.0h0M302.7 671.9h0M296.1 664.8h0M313.1 681.7h0M294.9 666.7h0M311.6 679.2h0M304.4 676.6h0M311.8 681.5h0M299.6 668.5h0M313.6 683.9h0M315.1 682.4h0M313.1 682.2h0M301.6 673.2h0M337.8 776.7h0M334.1 778.0h0M339.9 775.6h0M334.8 776.9h0M327.7 782.8h0M334.2 777.9h0M307.5 793.9h0M340.0 774.4h0M327.0 781.6h0M300.2 797.4h0M338.3 776.0h0M340.0 775.4h0M321.2 786.4h0M320.8 788.0h0M316.0 788.1h0M298.2 798.7h0M311.9 790.0h0M314.4 788.4h0M291.3 800.2h0M286.3 803.2h0M301.4 796.2h0M342.9 771.0h0M318.5 787.8h0M299.9 798.0h0M344.3 771.9h0M294.6 799.8h0M331.2 794.3h0M344.9 785.9h0M325.5 797.4h0M323.4 799.7h0M337.8 788.4h0M342.4 788.0h0M332.5 792.9h0M332.0 793.8h0M343.9 785.8h0M333.2 791.6h0M334.1 790.9h0M320.9 799.6h0M428.8 780.0h0M419.9 773.2h0M440.0 787.8h0M444.4 790.7h0M445.9 790.8h0M447.2 792.3h0M438.1 786.2h0M417.4 772.0h0M443.0 788.5h0M451.7 795.2h0M417.5 772.1h0M445.3 791.9h0M420.8 773.7h0M418.0 774.0h0M449.3 792.6h0M451.9 795.8h0M420.7 774.9h0M435.2 784.5h0M428.8 761.6h0M429.1 763.9h0M434.4 768.1h0M434.4 766.8h0M431.8 766.0h0M433.9 767.3h0M434.4 769.8h0M336.2 559.9h0M302.6 578.8h0M302.6 581.2h0M342.0 586.1h0M303.2 642.8h0M280.1 651.0h0M280.7 655.6h0M286.6 660.6h0M203.4 703.5h0M284.5 717.0h0M393.4 573.7h0M410.1 567.3h0M404.4 576.9h0M390.2 585.0h0M446.4 573.7h0M424.0 630.0h0M424.0 642.8h0M469.6 646.6h0M436.8 651.8h0M462.2 659.5h0M476.6 683.6h0M541.8 690.3h0M541.8 707.0h0M551.5 714.0h0M562.7 710.9h0M480.8 716.6h0M471.2 707.0h0M196.6 751.3h0M203.4 752.2h0M201.0 771.5h0M304.4 876.6h0M347.0 880.4h0M323.6 819.0h0M313.7 808.2h0M314.3 812.3h0M284.5 806.5h0M328.3 805.9h0M543.4 748.6h0M545.0 754.0h0M541.8 759.9h0M548.9 759.9h0M570.1 793.3h0M390.2 877.7h0M390.2 892.2h0M417.5 896.4h0M483.0 771.8h0M470.5 770.8h0M473.4 759.5h0M470.5 750.2h0M464.7 762.1h0M456.7 804.5h0M414.3 816.1h0M429.4 808.7h0M458.3 797.4h0" stroke="#c48d92"/>
<path d="M317.1 721.1h0M345.6 721.6h0M326.9 721.1h0M325.0 722.2h0M336.7 723.8h0M322.1 723.5h0M349.2 722.4h0M347.3 722.7h0M337.8 722.6h0M341.9 723.9h0M322.5 724.4h0M336.6 722.2h0M327.9 722.4h0M326.4 723.5h0M321.5 724.2h0M321.5 723.5h0M339.3 723.6h0M326.0 721.2h0M324.2 722.7h0M344.7 724.1h0M356.6 723.4h0M351.9 722.5h0M344.1 721.5h0M346.4 721.7h0M326.6 723.6h0M350.8 722.4h0M341.7 721.0h0M356.7 721.0h0M327.9 723.0h0M343.6 721.6h0M332.9 721.5h0M318.6 723.1h0M331.4 722.9h0M341.1 721.7h0M352.7 722.2h0M349.8 721.7h0M340.3 722.3h0M336.8 721.6h0M328.1 721.0h0M327.9 723.6h0M353.8 724.0h0M348.5 722.3h0M315.0 722.7h0M326.9 722.8h0M345.3 722.7h0M352.9 721.0h0M338.5 722.5h0M351.8 723.2h0M322.2 722.9h0M323.8 721.6h0M336.1 723.5h0M320.9 722.0h0M319.9 722.5h0M356.5 721.6h0M325.6 723.1h0M332.2 723.3h0M352.3 723.0h0M351.9 721.0h0M350.3 723.8h0M332.7 721.8h0M344.2 722.1h0M332.4 723.7h0M335.2 721.2h0M320.8 724.2h0M314.2 722.1h0M328.3 721.2h0M329.3 722.1h0M341.9 721.7h0M350.8 722.2h0M320.0 722.7h0M327.2 723.2h0M349.8 723.8h0M344.9 724.3h0M344.2 723.3h0M352.3 724.1h0M343.7 723.3h0M318.1 721.5h0M334.9 723.3h0M321.8 722.0h0M346.3 722.5h0M337.1 721.9h0M319.4 723.0h0M330.1 723.1h0M345.9 723.1h0M343.3 724.2h0M339.4 721.2h0M335.0 721.7h0M347.7 723.6h0M323.6 723.1h0M319.3 723.0h0M352.2 721.1h0M343.6 721.2h0M349.2 721.8h0M333.2 722.2h0M325.8 723.6h0M326.9 722.2h0M323.0 721.1h0M316.5 723.3h0M329.3 724.1h0M354.1 721.3h0M337.4 721.2h0M325.0 722.7h0M336.4 723.0h0M345.0 724.2h0M350.9 721.3h0M331.4 723.8h0M349.5 723.2h0M335.8 720.9h0M324.0 723.0h0M339.2 722.3h0M331.7 721.8h0M339.2 723.2h0M320.7 724.1h0M348.8 721.4h0M325.7 721.9h0M354.1 722.1h0M315.7 721.2h0M325.6 723.9h0M354.6 723.1h0M328.4 724.4h0M341.6 722.9h0M347.5 723.0h0M347.1 722.1h0M314.3 723.0h0M342.8 724.3h0M331.4 724.3h0M340.3 721.7h0M349.6 721.6h0M323.9 722.6h0M327.5 722.5h0M355.0 722.8h0M315.6 721.1h0M339.1 722.7h0M322.0 724.2h0M330.5 722.7h0M352.6 722.4h0M346.8 722.2h0M356.0 722.6h0M347.7 724.4h0M345.0 723.9h0M338.2 721.0h0M330.8 721.5h0M328.5 723.4h0M336.5 721.9h0M338.1 724.1h0M327.1 721.9h0M343.3 723.8h0M318.4 723.5h0M326.5 724.5h0M351.5 722.6h0M315.6 722.4h0M317.0 722.3h0M311.6 721.3h0M315.2 721.5h0M311.9 721.9h0M316.4 723.0h0M298.0 723.7h0M403.8 724.4h0M395.2 723.2h0M401.2 723.9h0M409.1 722.8h0M409.1 721.5h0M396.2 723.6h0M409.7 723.7h0M395.2 722.7h0M400.0 722.6h0M400.5 724.4h0M407.3 722.9h0M392.6 724.1h0M399.5 721.8h0M398.0 723.4h0M399.5 722.8h0M399.3 721.6h0M398.3 721.3h0M405.3 721.8h0M400.5 723.8h0M389.6 722.4h0M389.5 723.0h0M402.6 724.4h0M396.2 722.7h0M400.9 722.0h0M407.5 721.0h0M399.2 723.5h0M393.5 722.4h0M391.2 723.7h0M395.0 723.1h0M405.4 721.9h0M406.9 722.6h0M399.9 721.0h0M399.5 722.3h0M389.6 724.1h0M403.9 723.8h0M392.1 721.9h0M407.6 722.0h0M388.8 721.1h0M390.4 721.5h0M402.7 724.4h0M392.7 723.6h0M402.6 721.8h0M389.6 722.3h0M407.9 723.3h0M392.9 722.6h0M409.3 721.8h0M403.0 721.4h0M392.5 722.0h0M408.2 721.5h0M395.8 723.7h0M405.7 722.0h0M395.0 721.7h0M409.3 723.5h0M396.2 721.9h0M394.9 721.9h0M407.3 724.2h0M388.0 722.5h0M404.2 722.0h0M408.5 722.5h0M389.1 722.4h0M393.8 721.1h0M399.4 722.8h0M398.5 721.7h0M407.9 723.4h0M404.9 722.3h0M400.6 721.0h0M395.1 721.5h0M391.3 722.4h0M397.6 723.7h0M394.2 721.2h0M405.4 722.5h0M390.8 723.5h0M403.3 720.9h0M394.5 721.6h0M402.3 722.3h0M420.7 722.3h0M428.5 721.3h0M431.7 723.8h0M423.4 721.3h0M426.1 721.4h0M425.1 721.2h0M427.1 721.4h0M422.0 721.0h0M422.7 721.4h0M421.4 723.4h0M422.5 722.3h0M423.3 722.3h0M420.2 723.0h0M432.9 721.7h0M427.2 722.8h0M421.1 721.8h0M423.3 722.7h0M423.1 723.9h0M431.6 721.2h0M425.7 721.6h0M428.6 722.2h0M433.8 722.5h0M421.4 722.5h0M424.1 721.5h0M425.9 721.7h0M432.6 723.7h0M429.2 724.0h0M433.7 721.0h0M422.7 722.6h0M431.6 723.9h0M432.7 721.8h0M426.0 722.7h0M426.8 721.3h0M428.6 723.0h0M431.8 721.2h0M424.9 721.1h0M429.9 722.7h0M430.7 723.7h0M414.0 721.5h0M316.3 742.7h0M316.0 743.9h0M344.4 743.9h0M331.9 742.6h0M332.0 744.5h0M349.3 743.9h0M317.9 741.8h0M345.5 744.2h0M345.9 743.3h0M343.6 743.0h0M341.1 744.1h0M327.6 744.0h0M338.5 744.0h0M336.8 744.1h0M353.9 744.2h0M320.3 742.9h0M311.7 742.4h0M324.3 741.7h0M315.2 743.9h0M324.3 742.0h0M349.4 742.9h0M311.3 741.7h0M346.6 743.1h0M314.1 742.7h0M332.2 744.5h0M326.0 743.3h0M328.2 743.3h0M331.9 742.1h0M314.5 742.3h0M352.7 742.4h0M338.1 744.0h0M356.5 744.8h0M315.7 743.4h0M316.2 741.9h0M351.6 743.2h0M355.3 744.7h0M325.3 742.1h0M355.8 742.6h0M333.4 743.5h0M326.9 744.5h0M351.9 742.0h0M333.9 744.1h0M316.0 744.2h0M337.0 744.3h0M335.6 744.0h0M347.9 743.4h0M312.9 741.5h0M336.3 742.8h0M317.1 742.0h0M329.2 743.2h0M323.5 743.8h0M348.3 741.6h0M337.6 743.0h0M318.3 743.0h0M340.9 743.7h0M317.4 744.2h0M340.1 744.2h0M356.5 742.0h0M341.1 742.4h0M354.9 744.8h0M352.5 742.9h0M327.8 744.5h0M324.1 744.0h0M319.8 743.5h0M313.9 742.3h0M325.0 742.7h0M320.4 744.7h0M314.0 744.3h0M350.8 744.2h0M356.9 744.3h0M319.8 743.2h0M344.6 741.9h0M353.1 743.8h0M353.9 741.9h0M345.7 745.0h0M313.3 743.3h0M351.5 744.5h0M341.6 742.8h0M342.3 743.3h0M345.7 742.4h0M350.6 742.3h0M353.8 744.0h0M320.5 742.9h0M351.5 744.7h0M334.1 744.3h0M341.0 742.4h0M331.3 744.8h0M316.2 742.5h0M332.1 741.6h0M355.8 742.1h0M355.2 744.7h0M332.2 743.0h0M322.5 742.6h0M342.3 742.0h0M338.5 744.7h0M331.6 744.7h0M350.1 741.8h0M341.1 743.4h0M329.5 742.6h0M351.1 744.0h0M348.7 744.0h0M343.3 744.5h0M320.3 741.6h0M323.9 742.0h0M355.4 745.0h0M340.7 743.4h0M339.3 742.1h0M319.6 743.6h0M345.6 741.7h0M316.2 742.3h0M326.6 743.5h0M318.8 744.5h0M352.9 743.2h0M352.6 744.1h0M354.2 742.1h0M328.6 744.7h0M339.9 742.4h0M332.4 743.7h0M324.7 743.0h0M328.1 743.9h0M355.9 742.5h0M317.5 743.6h0M320.7 743.4h0M317.7 744.5h0M348.9 744.8h0M350.1 743.0h0M316.4 744.5h0M337.5 744.1h0M336.9 744.8h0M344.3 743.7h0M320.7 743.3h0M315.3 742.7h0M335.1 743.3h0M311.8 742.3h0M313.4 742.4h0M349.8 743.1h0M323.6 743.6h0M338.0 742.1h0M311.4 743.4h0M316.5 744.9h0M322.8 741.8h0M318.1 743.3h0M312.7 741.7h0M345.7 741.8h0M312.6 742.7h0M321.9 743.4h0M312.4 743.4h0M325.1 742.6h0M342.9 744.7h0M346.9 742.3h0M316.0 740.6h0M319.0 740.6h0M321.0 740.8h0M315.0 741.0h0M322.0 741.0h0M401.5 742.0h0M401.1 744.8h0M394.4 744.0h0M400.1 745.0h0M401.4 742.3h0M393.2 743.3h0M400.7 744.5h0M400.5 744.5h0M398.5 743.2h0M406.1 742.8h0M393.4 745.0h0M394.3 745.0h0M389.4 744.5h0M403.8 742.2h0M398.3 744.5h0M402.3 742.6h0M399.3 743.2h0M388.6 744.8h0M389.2 743.2h0M403.9 742.5h0M405.6 743.5h0M408.1 742.0h0M395.4 744.3h0M405.2 743.6h0M400.7 741.9h0M397.7 744.3h0M400.7 744.1h0M407.3 742.5h0M399.4 742.6h0M407.9 744.1h0M399.2 744.5h0M394.2 744.2h0M392.6 741.9h0M398.4 743.5h0M401.7 742.9h0M407.4 743.6h0M408.3 743.9h0M402.7 742.2h0M394.5 742.6h0M390.8 743.4h0M391.8 742.6h0M399.4 744.3h0M405.1 743.8h0M388.5 744.0h0M401.1 744.2h0M396.4 744.1h0M389.6 744.5h0M393.9 742.0h0M405.1 743.6h0M394.3 744.7h0M392.3 744.5h0M387.7 742.2h0M406.0 742.8h0M393.2 742.6h0M406.4 744.0h0M401.2 743.1h0M398.7 743.4h0M408.4 742.8h0M392.7 741.6h0M393.9 741.9h0M401.5 743.1h0M408.8 744.1h0M405.6 744.3h0M387.8 744.9h0M408.8 743.6h0M390.5 741.9h0M394.0 744.8h0M388.5 742.9h0M395.6 742.3h0M408.6 744.4h0M423.7 741.8h0M423.9 743.5h0M420.6 743.8h0M423.2 743.7h0M422.6 743.4h0M419.1 744.2h0M421.5 741.5h0M421.3 743.4h0M421.2 742.3h0M421.9 744.8h0M424.0 742.4h0M422.5 741.8h0M423.0 744.1h0M419.7 741.7h0M422.6 743.6h0M421.0 742.4h0M423.9 741.5h0M431.0 743.5h0M436.0 744.0h0M463.0 744.5h0M466.0 744.5h0" stroke="#aa93b7"/>
<path d="M359.5 685.7h0M361.7 685.3h0M360.5 682.7h0M361.4 680.8h0M359.9 678.5h0M360.6 676.4h0M362.0 679.4h0M361.9 684.5h0M361.8 687.4h0M361.8 682.3h0M361.7 684.7h0M362.6 684.1h0M362.1 686.6h0M362.2 681.6h0M361.1 686.6h0M359.5 680.2h0M360.2 695.1h0M360.2 691.1h0M359.7 695.6h0M360.1 698.4h0M359.4 692.1h0M362.0 699.6h0M361.7 710.8h0M363.4 711.9h0M360.3 718.0h0M361.4 707.1h0M361.2 705.2h0M362.2 709.5h0M363.1 703.0h0M361.4 717.9h0M360.2 718.5h0M362.4 711.9h0M359.2 700.2h0M361.4 709.6h0M360.3 710.0h0M363.1 716.6h0M359.6 699.3h0M362.5 704.4h0M362.7 706.9h0M360.1 719.2h0M361.7 710.1h0M360.3 713.4h0M360.7 707.2h0M360.3 711.2h0M362.3 708.1h0M361.8 713.4h0M362.7 713.3h0M363.0 718.1h0M363.4 716.8h0M360.2 716.9h0M362.1 700.3h0M360.9 703.3h0M361.6 709.0h0M361.4 714.1h0M360.4 702.2h0M361.7 706.6h0M359.6 699.5h0M362.6 711.5h0M363.5 702.9h0M360.5 713.1h0M362.3 713.4h0M359.6 716.9h0M363.0 714.8h0M362.0 701.2h0M359.6 706.4h0M363.2 708.3h0M359.9 709.0h0M359.3 711.6h0M359.2 704.0h0M361.4 715.4h0M362.1 706.2h0M361.7 718.4h0M361.3 707.9h0M362.6 667.2h0M361.5 678.0h0M362.5 681.0h0M384.4 688.7h0M384.7 693.8h0M381.3 688.5h0M384.9 686.7h0M384.4 678.0h0M383.2 680.4h0M381.9 682.8h0M385.5 679.2h0M384.9 679.7h0M385.6 684.8h0M383.8 687.8h0M383.3 688.5h0M384.3 679.4h0M385.7 693.6h0M381.4 680.7h0M382.6 687.7h0M385.9 680.7h0M385.6 682.9h0M385.0 693.6h0M381.7 680.9h0M382.7 692.0h0M384.6 682.7h0M386.1 681.5h0M381.6 680.8h0M383.5 682.8h0M386.1 683.1h0M381.9 681.3h0M384.3 687.2h0M384.5 681.1h0M384.7 684.5h0M382.4 688.3h0M381.6 684.1h0M384.8 691.5h0M383.3 691.2h0M383.2 694.5h0M383.6 699.5h0M385.8 698.9h0M383.7 698.0h0M384.8 694.4h0M385.9 698.7h0M385.5 695.7h0M384.3 716.7h0M382.1 718.1h0M386.1 702.7h0M386.2 717.1h0M381.5 701.7h0M384.4 702.7h0M383.9 701.5h0M383.4 715.3h0M381.7 705.0h0M385.5 711.3h0M383.9 710.1h0M382.5 710.6h0M384.7 707.5h0M382.0 705.3h0M385.7 703.3h0M385.0 715.7h0M381.4 701.3h0M386.2 716.2h0M382.2 704.4h0M386.1 707.3h0M385.7 705.2h0M385.8 717.7h0M384.4 718.2h0M385.1 711.4h0M384.6 711.7h0M383.5 709.4h0M386.2 714.0h0M384.3 710.8h0M385.5 707.6h0M385.4 701.4h0M381.9 718.2h0M384.2 704.6h0M381.6 719.1h0M383.6 704.3h0M384.1 707.5h0M382.7 707.8h0M384.8 716.3h0M383.1 702.8h0M384.5 712.8h0M382.8 707.8h0M384.6 712.5h0M386.2 718.8h0M382.4 701.3h0M381.1 704.5h0M381.2 712.6h0M382.6 711.8h0M384.4 704.1h0M383.0 717.3h0M382.1 711.8h0M382.6 705.1h0M381.7 671.2h0M386.4 660.4h0M363.3 749.1h0M364.1 753.2h0M362.7 751.5h0M364.0 751.0h0M362.9 748.3h0M362.4 750.4h0M363.1 756.2h0M360.5 751.9h0M362.8 752.2h0M364.3 754.3h0M359.2 755.8h0M361.2 757.3h0M363.8 753.3h0M360.4 757.9h0M361.5 753.6h0M363.8 754.4h0M363.2 755.0h0M360.8 757.1h0M362.0 756.5h0M361.2 754.2h0M360.8 749.6h0M361.0 749.0h0M363.3 754.7h0M360.3 749.1h0M359.5 756.1h0M363.2 757.3h0M362.8 755.9h0M359.9 756.8h0M361.8 754.7h0M363.2 750.8h0M361.9 756.9h0M360.3 753.1h0M361.8 751.7h0M363.1 755.5h0M359.5 754.0h0M362.5 756.8h0M359.1 747.0h0M359.8 748.2h0M360.9 753.0h0M362.0 748.1h0M360.4 770.5h0M360.8 761.5h0M361.1 773.3h0M361.5 775.3h0M359.3 771.5h0M360.7 768.8h0M363.7 758.4h0M361.0 773.6h0M359.7 772.4h0M359.5 773.4h0M362.6 769.0h0M360.5 758.1h0M363.2 775.1h0M362.7 759.5h0M363.2 761.0h0M359.2 760.7h0M362.5 761.5h0M362.5 771.7h0M360.5 775.0h0M361.0 766.9h0M359.1 767.1h0M359.2 767.0h0M362.0 760.5h0M361.9 764.0h0M359.2 760.9h0M362.2 770.8h0M361.6 769.0h0M362.9 762.7h0M359.9 769.6h0M361.7 759.7h0M360.0 765.4h0M362.8 772.0h0M360.9 772.2h0M362.0 772.9h0M362.3 760.5h0M361.6 769.2h0M363.2 774.4h0M360.6 768.9h0M362.0 774.8h0M359.5 773.3h0M359.6 763.9h0M362.9 770.6h0M361.3 783.8h0M360.3 784.8h0M362.7 781.8h0M362.2 781.0h0M361.1 782.1h0M362.4 783.5h0M361.1 776.5h0M362.6 779.9h0M362.8 785.1h0M359.4 784.3h0M362.8 783.1h0M360.7 782.6h0M362.7 782.9h0M362.7 776.3h0M360.9 784.3h0M361.7 781.5h0M380.9 747.0h0M382.7 747.4h0M382.2 750.5h0M384.2 755.8h0M384.5 748.7h0M381.6 761.2h0M383.3 763.0h0M381.6 768.9h0M383.5 767.3h0M385.8 769.8h0M384.2 748.0h0M383.4 766.0h0M382.4 765.1h0M384.2 748.0h0M385.3 763.6h0M381.8 749.0h0M385.6 759.6h0M385.2 755.6h0M382.8 754.1h0M381.8 763.9h0M385.1 761.7h0M385.7 746.8h0M382.5 769.0h0M381.0 749.1h0M381.7 766.7h0M382.2 759.1h0M381.5 756.7h0M382.0 753.6h0M384.7 756.9h0M381.6 761.9h0M385.2 767.8h0M386.0 751.1h0M383.9 749.6h0M382.3 753.9h0M381.4 747.4h0M382.2 755.4h0M383.5 748.4h0M383.4 768.9h0M382.9 762.3h0M381.2 756.9h0M383.6 769.9h0M384.8 766.4h0M382.5 747.0h0M383.3 761.1h0M384.2 755.9h0M381.2 755.0h0M383.2 751.0h0M385.7 748.0h0M382.0 750.9h0M385.0 768.8h0M381.5 752.1h0M384.4 752.7h0M381.0 761.2h0M382.1 748.2h0M381.9 764.2h0M381.9 747.5h0M383.7 749.8h0M383.4 769.9h0M380.8 768.0h0M384.0 751.1h0M381.2 751.1h0M382.2 755.9h0M383.5 776.6h0M382.2 771.3h0M382.8 782.0h0M385.8 780.6h0M385.9 779.0h0M383.8 775.2h0M385.9 781.2h0M384.1 773.8h0M385.8 779.2h0M382.9 782.0h0M385.4 773.3h0M383.2 775.3h0M383.4 782.4h0M382.9 773.8h0M384.4 780.3h0M385.2 771.7h0M383.6 771.7h0M383.7 778.6h0M383.0 776.8h0M381.5 776.7h0M384.2 777.6h0M384.4 777.4h0M384.0 781.6h0M382.6 778.7h0M384.3 779.3h0M384.7 787.4h0M386.0 788.5h0M385.1 783.9h0M385.9 787.8h0M384.1 786.5h0M383.6 787.3h0" stroke="#9ec3d6"/>
<path d="M360.7 723.9h0M360.8 724.2h0M362.9 723.6h0M360.4 724.6h0M364.6 722.3h0M363.2 724.9h0M364.5 722.5h0M361.0 722.3h0M363.5 722.8h0M361.0 724.1h0M359.9 724.9h0M358.9 724.0h0M363.2 723.3h0M362.6 723.3h0M364.0 723.1h0M362.8 725.0h0M363.8 723.8h0M360.0 723.2h0M361.8 723.6h0M360.8 722.4h0M358.9 724.6h0M359.1 723.4h0M362.5 722.6h0M360.5 723.4h0M359.1 721.9h0M363.8 722.4h0M360.3 723.3h0M361.6 724.8h0M364.3 725.1h0M362.3 723.7h0M361.8 723.4h0M361.1 725.2h0M364.3 722.4h0M359.1 722.8h0M359.6 721.9h0M361.3 724.3h0M359.5 723.7h0M361.6 723.8h0M363.5 724.3h0M362.6 722.9h0M363.8 723.5h0M359.2 722.1h0M361.4 725.0h0M362.7 723.8h0M363.4 724.4h0M362.1 724.0h0M361.5 725.1h0M359.5 722.7h0M364.3 724.7h0M361.0 724.1h0M386.1 723.2h0M383.0 723.2h0M384.0 724.7h0M385.5 722.1h0M383.8 723.5h0M381.3 722.0h0M386.0 723.3h0M384.3 722.1h0M383.7 723.3h0M385.3 724.5h0M385.7 723.0h0M383.2 722.1h0M383.2 724.0h0M384.0 723.2h0M381.4 722.9h0M381.6 723.0h0M382.2 722.6h0M384.3 722.4h0M384.1 722.0h0M381.0 725.2h0M384.8 722.6h0M386.2 722.6h0M380.6 722.9h0M385.4 724.3h0M386.0 724.9h0M382.1 724.4h0M383.8 725.1h0M385.4 723.3h0M380.6 722.7h0M384.3 724.0h0M383.4 722.5h0M383.1 722.5h0M383.3 725.1h0M382.0 723.4h0M384.8 724.8h0M386.2 725.0h0M386.0 723.4h0M382.9 723.8h0M380.6 725.1h0M383.6 723.1h0M384.3 724.7h0M380.9 724.1h0M386.2 722.1h0M382.2 724.1h0M383.9 724.6h0M383.9 722.0h0M383.3 725.0h0M381.6 722.0h0M383.8 723.7h0M381.8 723.2h0M363.4 743.8h0M362.9 742.2h0M364.2 742.4h0M363.0 742.2h0M359.8 742.0h0M358.9 743.4h0M361.2 743.6h0M361.1 742.9h0M359.3 741.1h0M362.5 742.3h0M364.4 742.8h0M359.2 741.8h0M359.7 742.4h0M360.9 741.9h0M360.0 741.4h0M363.6 741.9h0M363.9 742.8h0M362.4 741.6h0M361.6 743.3h0M364.6 741.0h0M359.5 741.2h0M362.0 741.6h0M360.0 743.4h0M362.8 743.9h0M359.2 743.5h0M362.8 743.3h0M360.5 742.3h0M363.7 743.8h0M360.5 743.4h0M363.5 742.5h0M364.3 741.9h0M360.6 742.6h0M362.4 743.6h0M364.2 742.2h0M360.3 742.7h0M360.0 741.7h0M359.3 742.5h0M361.9 741.2h0M360.9 741.4h0M361.4 742.1h0M359.9 743.1h0M362.2 742.5h0M361.4 743.9h0M361.3 742.9h0M359.0 742.7h0M360.2 741.1h0M364.3 741.9h0M360.2 741.5h0M363.5 742.7h0M360.6 741.8h0M386.0 743.5h0M383.8 743.8h0M384.7 742.1h0M382.9 742.6h0M381.7 742.2h0M382.6 743.3h0M383.5 741.8h0M384.6 743.8h0M380.7 742.6h0M385.2 741.0h0M385.2 741.7h0M383.8 742.0h0M383.6 741.2h0M381.4 742.4h0M382.7 741.9h0M383.3 741.4h0M385.9 741.9h0M381.1 742.6h0M382.3 742.3h0M385.5 742.1h0M386.2 742.0h0M386.2 741.1h0M384.1 741.4h0M383.9 742.9h0M381.0 743.3h0M384.9 742.8h0M382.1 742.4h0M384.6 743.9h0M383.7 741.5h0M382.3 742.9h0M385.7 743.6h0M381.5 741.4h0M381.7 742.0h0M386.2 741.4h0M385.8 743.4h0M383.1 743.7h0M384.9 742.6h0M382.7 741.3h0M384.9 741.8h0M382.6 742.8h0M383.2 742.8h0M384.4 742.0h0M381.9 741.7h0M382.5 742.1h0M385.0 742.1h0M384.9 743.1h0M380.7 742.8h0M386.0 742.1h0M381.0 743.6h0M384.6 742.2h0" stroke="#cccccc"/>
</g>
<g stroke="#000" stroke-width="1.6" stroke-dasharray="6.5 5.76" fill="none">
<line x1="357.5" y1="543.4" x2="357.5" y2="912.8" stroke-dashoffset="3.71"/>
<line x1="387.2" y1="543.4" x2="387.2" y2="912.8" stroke-dashoffset="3.71"/>
<line x1="178.6" y1="719.9" x2="588.5" y2="719.9" stroke-dashoffset="0.96"/>
<line x1="178.6" y1="745.4" x2="588.5" y2="745.4" stroke-dashoffset="0.96"/>
</g>
<rect x="178.6" y="543.45" width="409.9" height="369.35" fill="none" stroke="#000" stroke-width="1.3"/>
<g stroke="#000" stroke-width="1.3">
<line x1="172" y1="605" x2="178.6" y2="605"/>
<line x1="172" y1="668.6" x2="178.6" y2="668.6"/>
<line x1="172" y1="732.4" x2="178.6" y2="732.4"/>
<line x1="172" y1="796.2" x2="178.6" y2="796.2"/>
<line x1="172" y1="860.1" x2="178.6" y2="860.1"/>
<line x1="224.3" y1="912.8" x2="224.3" y2="919.7"/>
<line x1="298.4" y1="912.8" x2="298.4" y2="919.7"/>
<line x1="372.6" y1="912.8" x2="372.6" y2="919.7"/>
<line x1="446.8" y1="912.8" x2="446.8" y2="919.7"/>
<line x1="520.9" y1="912.8" x2="520.9" y2="919.7"/>
</g>
<g font-size="22.6" fill="#000" text-anchor="end">
<text x="170.2" y="613.1">20</text>
<text x="170.2" y="676.7">10</text>
<text x="170.2" y="740.5">0</text>
<text x="170.2" y="804.3">−10</text>
<text x="170.2" y="868.2">−20</text>
</g>
<g font-size="22.7" fill="#000">
<text x="198.8" y="939.6">−20</text>
<text x="271.6" y="939.6">−10</text>
<text x="366.1" y="939.6">0</text>
<text x="433.0" y="939.6">10</text>
<text x="505.9" y="939.6">20</text>
</g>
<g font-size="22.15" fill="#000">
<text x="259.3" y="966">log2FC</text>
<text x="339.7" y="966">(Gene expression)</text>
<text transform="translate(116.5,821.7) rotate(-90)">log2FC</text>
<text transform="translate(116.5,742.9) rotate(-90)">(Methylation)</text>
</g>
</svg>
</body></html>
